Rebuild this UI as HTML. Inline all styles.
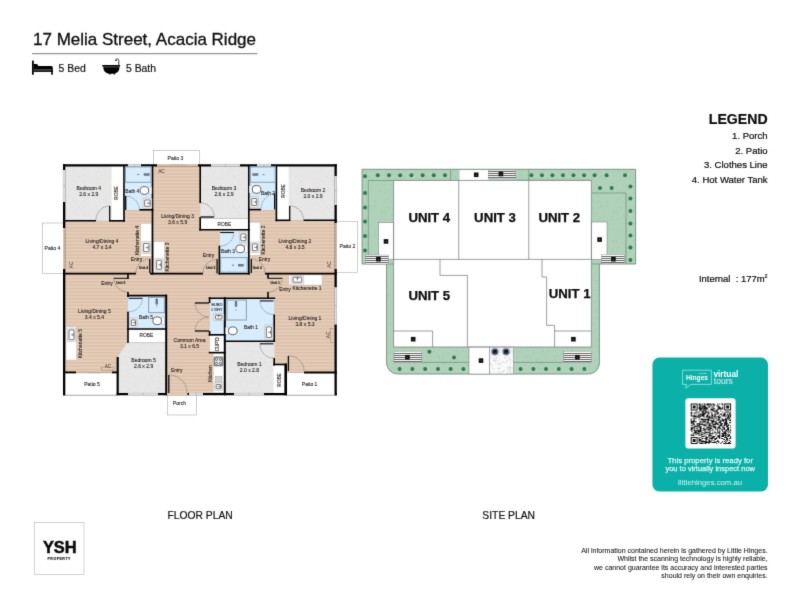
<!DOCTYPE html>
<html lang="en">
<head>
<meta charset="utf-8">
<title>17 Melia Street, Acacia Ridge</title>
<style>
html,body{margin:0;padding:0;background:#fff;}
body{width:800px;height:600px;overflow:hidden;font-family:"Liberation Sans",Arial,sans-serif;}
svg{display:block;}
text{font-family:"Liberation Sans",Arial,sans-serif;}
</style>
</head>
<body>
<svg width="800" height="600" viewBox="0 0 800 600">
<defs>
<filter id="soft" x="0" y="0" width="800" height="600" filterUnits="userSpaceOnUse" color-interpolation-filters="sRGB"><feConvolveMatrix order="3" kernelMatrix="0.0113 0.0838 0.0113 0.0838 0.6193 0.0838 0.0113 0.0838 0.0113" edgeMode="duplicate" preserveAlpha="true"/></filter>
<pattern id="wood" width="20" height="3.375" patternUnits="userSpaceOnUse" y="0.05">
<rect width="20" height="3.375" fill="#E5CCB7"/><rect y="1.1" width="20" height="1.15" fill="#D9BEA7"/>
</pattern>
<pattern id="carpet" width="31" height="31" patternUnits="userSpaceOnUse"><rect width="31" height="31" fill="#E6E7E6"/><path fill="#dadcdb" d="M18.0 4.0h1.0v0.6h-1.0zM20.4 1.9h1.0v0.6h-1.0zM1.1 15.0h0.6v1.0h-0.6zM27.5 20.7h0.6v0.6h-0.6zM8.9 23.4h0.6v0.6h-0.6zM30.4 9.4h0.6v0.6h-0.6zM1.8 19.1h0.6v0.6h-0.6zM13.3 26.0h0.6v0.6h-0.6zM28.0 4.7h0.6v0.6h-0.6zM22.7 25.4h1.0v1.0h-1.0zM27.5 21.1h0.6v0.6h-0.6zM7.7 26.2h0.6v0.6h-0.6zM24.1 28.0h0.6v0.6h-0.6zM8.2 16.0h0.6v0.6h-0.6zM3.8 2.1h0.6v1.0h-0.6zM15.7 14.9h0.6v0.6h-0.6zM10.7 19.7h1.0v0.6h-1.0zM16.9 21.8h0.6v0.6h-0.6zM11.3 15.1h1.0v0.6h-1.0zM16.3 21.1h0.6v0.6h-0.6zM12.9 26.7h0.6v0.6h-0.6zM28.5 22.2h1.0v0.6h-1.0zM16.0 17.2h1.0v0.6h-1.0zM24.9 10.4h0.6v0.6h-0.6zM20.5 25.4h0.6v1.0h-0.6zM7.4 5.5h0.6v0.6h-0.6zM12.6 17.3h1.0v1.0h-1.0zM2.9 22.7h1.0v1.0h-1.0zM4.5 15.7h0.6v1.0h-0.6zM17.3 7.3h0.6v0.6h-0.6zM14.6 21.9h0.6v1.0h-0.6zM14.2 7.0h0.6v1.0h-0.6zM27.1 23.6h0.6v0.6h-0.6zM9.5 12.9h1.0v0.6h-1.0zM2.8 25.4h0.6v0.6h-0.6zM10.2 13.3h0.6v0.6h-0.6zM19.6 22.6h0.6v0.6h-0.6zM16.5 3.6h0.6v0.6h-0.6zM16.0 21.3h1.0v0.6h-1.0zM22.9 29.2h1.0v1.0h-1.0zM21.8 20.6h1.0v1.0h-1.0zM19.6 22.2h0.6v0.6h-0.6zM1.3 15.3h0.6v1.0h-0.6zM8.2 3.0h0.6v1.0h-0.6zM18.3 22.1h0.6v0.6h-0.6zM5.9 16.1h0.6v1.0h-0.6zM4.1 24.1h1.0v0.6h-1.0zM10.9 7.1h0.6v0.6h-0.6zM13.3 23.0h0.6v0.6h-0.6zM23.9 12.4h0.6v1.0h-0.6zM11.9 14.4h0.6v1.0h-0.6zM21.9 11.2h0.6v0.6h-0.6zM4.8 0.7h1.0v0.6h-1.0z"/><path fill="#eff1f0" d="M23.7 25.0h0.6v0.6h-0.6zM22.1 17.5h0.6v0.6h-0.6zM23.7 26.0h0.6v1.0h-0.6zM17.5 16.2h0.6v1.0h-0.6zM2.7 24.3h0.6v0.6h-0.6zM16.7 28.0h0.6v1.0h-0.6zM29.1 27.3h0.6v0.6h-0.6zM26.4 11.7h1.0v1.0h-1.0zM19.3 21.8h0.6v0.6h-0.6zM15.8 16.7h0.6v0.6h-0.6zM0.7 1.8h1.0v0.6h-1.0zM7.6 13.9h1.0v1.0h-1.0zM5.4 5.6h0.6v1.0h-0.6zM9.1 11.5h0.6v1.0h-0.6zM7.3 5.7h0.6v1.0h-0.6zM22.6 6.6h1.0v0.6h-1.0zM6.8 3.7h1.0v0.6h-1.0zM24.5 25.5h0.6v0.6h-0.6zM24.5 19.5h1.0v0.6h-1.0zM19.3 8.8h1.0v0.6h-1.0zM1.6 27.8h0.6v0.6h-0.6zM6.7 3.7h0.6v0.6h-0.6zM19.1 26.2h0.6v0.6h-0.6zM9.8 24.9h0.6v0.6h-0.6zM8.1 30.0h0.6v0.6h-0.6zM28.9 12.7h0.6v0.6h-0.6zM24.3 1.1h1.0v1.0h-1.0zM15.2 29.6h0.6v1.0h-0.6zM17.8 26.1h0.6v0.6h-0.6zM0.7 14.6h0.6v0.6h-0.6zM30.1 14.6h1.0v0.6h-1.0zM17.6 27.4h1.0v1.0h-1.0zM13.8 22.3h0.6v0.6h-0.6zM9.0 20.5h1.0v0.6h-1.0zM27.1 19.9h0.6v0.6h-0.6zM9.5 5.4h0.6v0.6h-0.6zM10.9 8.1h0.6v0.6h-0.6zM0.9 24.4h0.6v0.6h-0.6zM16.8 17.7h1.0v0.6h-1.0zM6.3 14.9h0.6v0.6h-0.6zM23.0 12.2h0.6v0.6h-0.6zM23.8 4.4h0.6v1.0h-0.6z"/><path fill="#e0e1e0" d="M17.7 18.4h0.6v0.6h-0.6zM7.1 30.3h0.6v1.0h-0.6zM14.5 19.4h0.6v0.6h-0.6zM4.6 28.1h0.6v1.0h-0.6zM21.9 26.7h1.0v0.6h-1.0zM20.4 5.0h0.6v1.0h-0.6zM17.3 21.7h0.6v1.0h-0.6zM8.1 3.8h0.6v1.0h-0.6zM18.7 1.4h1.0v1.0h-1.0zM16.3 28.8h0.6v0.6h-0.6zM8.0 21.0h0.6v0.6h-0.6zM3.1 29.6h1.0v0.6h-1.0zM9.6 11.4h1.0v1.0h-1.0zM27.9 18.5h0.6v1.0h-0.6zM22.3 9.4h0.6v1.0h-0.6zM2.9 18.3h0.6v1.0h-0.6zM3.9 8.9h0.6v0.6h-0.6zM30.0 13.2h1.0v0.6h-1.0zM29.3 16.5h0.6v0.6h-0.6zM29.5 3.6h0.6v0.6h-0.6zM1.5 14.6h0.6v0.6h-0.6zM9.1 20.2h1.0v1.0h-1.0zM5.4 11.3h1.0v1.0h-1.0zM11.6 24.4h1.0v0.6h-1.0zM24.0 8.0h0.6v1.0h-0.6zM3.3 9.7h1.0v0.6h-1.0zM21.8 14.4h0.6v0.6h-0.6zM21.7 3.2h1.0v0.6h-1.0zM1.9 9.9h1.0v0.6h-1.0zM21.3 28.7h0.6v0.6h-0.6zM12.1 10.6h0.6v0.6h-0.6zM20.8 4.7h0.6v0.6h-0.6zM29.0 9.0h1.0v0.6h-1.0zM26.0 17.8h0.6v0.6h-0.6zM23.6 2.1h0.6v0.6h-0.6zM21.4 26.1h0.6v0.6h-0.6zM13.1 13.3h1.0v0.6h-1.0zM16.0 20.3h1.0v0.6h-1.0zM4.3 10.1h1.0v1.0h-1.0zM12.8 9.1h0.6v0.6h-0.6zM5.5 16.8h1.0v1.0h-1.0zM10.8 10.1h0.6v0.6h-0.6zM24.6 2.1h0.6v0.6h-0.6zM3.4 21.2h1.0v0.6h-1.0zM22.6 24.8h1.0v0.6h-1.0zM18.5 26.1h0.6v1.0h-0.6zM5.2 5.4h0.6v0.6h-0.6zM20.9 9.1h1.0v0.6h-1.0zM7.1 5.3h1.0v0.6h-1.0zM28.8 3.4h0.6v1.0h-0.6zM0.6 10.3h0.6v0.6h-0.6zM21.1 2.4h1.0v0.6h-1.0zM2.4 30.2h0.6v0.6h-0.6zM11.0 12.2h0.6v0.6h-0.6zM5.1 0.8h0.6v1.0h-0.6z"/></pattern>
<pattern id="stipple" width="29" height="29" patternUnits="userSpaceOnUse"><path fill="#98c0a4" d="M10.8 2.9h0.7v0.7h-0.7zM3.9 17.5h0.7v0.7h-0.7zM27.5 0.2h0.7v0.7h-0.7zM8.2 27.2h1.1v1.1h-1.1zM16.9 20.0h0.7v0.7h-0.7zM26.3 26.7h0.7v1.1h-0.7zM17.7 20.4h0.7v0.7h-0.7zM20.4 2.3h1.1v1.1h-1.1zM17.8 22.3h0.7v0.7h-0.7zM12.8 28.3h0.7v1.1h-0.7zM16.4 0.3h1.1v0.7h-1.1zM17.5 26.5h1.1v1.1h-1.1zM25.2 3.1h0.7v0.7h-0.7zM15.5 11.8h0.7v0.7h-0.7zM19.5 15.5h0.7v1.1h-0.7zM4.4 10.8h0.7v0.7h-0.7zM17.2 9.9h1.1v0.7h-1.1zM9.2 24.8h1.1v0.7h-1.1zM13.6 15.9h0.7v0.7h-0.7zM7.0 7.6h0.7v1.1h-0.7zM8.5 15.1h0.7v1.1h-0.7zM20.7 7.6h0.7v0.7h-0.7zM11.7 4.6h1.1v0.7h-1.1zM15.7 18.7h1.1v0.7h-1.1zM3.9 8.3h1.1v1.1h-1.1zM14.3 12.8h0.7v0.7h-0.7zM16.8 16.2h1.1v0.7h-1.1z"/><path fill="#a4c9ae" d="M8.5 10.2h0.7v0.7h-0.7zM1.8 8.5h1.1v1.1h-1.1zM23.2 13.6h0.7v0.7h-0.7zM13.4 5.0h0.7v0.7h-0.7zM10.7 23.8h0.7v0.7h-0.7zM25.3 7.1h0.7v0.7h-0.7zM26.8 2.6h0.7v1.1h-0.7zM0.9 21.0h0.7v0.7h-0.7zM18.4 4.1h1.1v0.7h-1.1zM9.5 5.9h1.1v1.1h-1.1zM10.6 1.7h0.7v0.7h-0.7zM27.2 19.5h0.7v0.7h-0.7zM8.2 11.4h0.7v0.7h-0.7zM23.3 15.0h0.7v1.1h-0.7zM24.6 5.1h0.7v0.7h-0.7zM19.7 18.8h0.7v0.7h-0.7zM19.0 13.1h1.1v1.1h-1.1zM27.6 27.1h1.1v0.7h-1.1zM19.6 20.4h1.1v0.7h-1.1zM8.6 15.7h1.1v0.7h-1.1zM0.0 11.5h0.7v0.7h-0.7zM23.0 18.2h0.7v0.7h-0.7zM3.1 16.0h1.1v1.1h-1.1zM12.2 6.4h0.7v0.7h-0.7zM0.6 26.7h0.7v0.7h-0.7zM4.1 0.7h1.1v1.1h-1.1zM6.9 1.1h0.7v0.7h-0.7zM8.3 17.2h0.7v1.1h-0.7zM20.7 0.8h0.7v0.7h-0.7zM15.7 19.4h0.7v1.1h-0.7zM13.5 19.3h1.1v0.7h-1.1zM13.2 21.5h0.7v0.7h-0.7zM4.0 13.5h1.1v0.7h-1.1zM15.2 12.0h1.1v0.7h-1.1zM19.8 1.4h0.7v0.7h-0.7zM20.0 12.4h0.7v1.1h-0.7zM1.6 16.3h1.1v0.7h-1.1zM14.6 3.8h0.7v0.7h-0.7zM20.9 5.1h1.1v0.7h-1.1zM27.3 3.0h1.1v0.7h-1.1zM23.2 4.0h1.1v0.7h-1.1zM23.7 8.2h1.1v1.1h-1.1zM22.5 10.7h1.1v0.7h-1.1zM1.8 1.0h0.7v0.7h-0.7z"/><path fill="#a9cdb3" d="M7.2 10.1h1.1v1.1h-1.1zM26.1 0.8h0.7v0.7h-0.7zM1.5 4.4h0.7v0.7h-0.7zM6.1 7.9h0.7v0.7h-0.7zM5.8 26.6h1.1v0.7h-1.1zM10.1 11.4h1.1v0.7h-1.1zM5.1 27.0h0.7v0.7h-0.7zM21.2 22.6h0.7v0.7h-0.7zM10.3 4.2h0.7v1.1h-0.7zM2.6 19.4h0.7v0.7h-0.7zM22.1 24.5h0.7v0.7h-0.7zM19.9 7.9h0.7v0.7h-0.7zM20.3 27.1h0.7v1.1h-0.7zM22.6 9.8h1.1v0.7h-1.1zM26.5 11.6h0.7v1.1h-0.7zM27.7 5.6h0.7v0.7h-0.7zM28.2 5.5h1.1v0.7h-1.1zM18.4 6.2h1.1v0.7h-1.1zM20.3 27.9h0.7v0.7h-0.7zM17.3 16.7h0.7v1.1h-0.7zM8.5 8.4h1.1v0.7h-1.1zM8.3 10.0h0.7v0.7h-0.7zM10.7 27.2h0.7v1.1h-0.7zM7.4 27.8h0.7v0.7h-0.7zM24.4 24.9h0.7v0.7h-0.7zM21.1 16.7h0.7v0.7h-0.7zM5.4 12.2h0.7v1.1h-0.7zM19.5 27.0h1.1v0.7h-1.1zM22.0 16.5h1.1v0.7h-1.1zM26.7 9.4h0.7v0.7h-0.7zM18.3 26.9h1.1v0.7h-1.1zM3.8 12.2h0.7v1.1h-0.7zM13.9 10.0h1.1v0.7h-1.1zM14.3 25.8h1.1v1.1h-1.1zM6.2 1.8h0.7v0.7h-0.7zM9.7 16.2h0.7v0.7h-0.7zM20.5 1.5h0.7v0.7h-0.7zM22.5 21.2h0.7v1.1h-0.7zM8.4 17.9h0.7v1.1h-0.7z"/></pattern>
<pattern id="gravel" width="23" height="23" patternUnits="userSpaceOnUse"><path fill="#b5b5b5" d="M7.6 10.4h0.8v0.5h-0.8zM3.8 1.2h0.5v0.8h-0.5zM15.9 0.1h0.5v0.5h-0.5zM17.2 4.4h0.5v0.5h-0.5zM20.1 3.0h0.5v0.8h-0.5zM12.9 12.1h0.5v0.5h-0.5zM9.0 14.4h0.5v0.8h-0.5zM6.1 15.4h0.5v0.8h-0.5zM6.9 6.4h0.8v0.5h-0.8zM8.6 12.6h0.5v0.5h-0.5zM21.1 18.2h0.5v0.5h-0.5zM13.6 0.3h0.5v0.5h-0.5zM17.7 6.6h0.5v0.5h-0.5zM14.9 6.2h0.8v0.8h-0.8zM3.9 14.2h0.5v0.5h-0.5zM19.3 4.6h0.5v0.5h-0.5zM13.1 13.2h0.5v0.8h-0.5zM11.0 14.3h0.5v0.8h-0.5zM0.8 13.4h0.8v0.5h-0.8zM13.7 4.1h0.5v0.5h-0.5zM2.4 7.8h0.5v0.5h-0.5zM4.3 5.0h0.5v0.5h-0.5zM1.7 14.5h0.5v0.5h-0.5zM16.7 10.5h0.8v0.5h-0.8zM21.6 11.7h0.5v0.5h-0.5zM15.3 3.0h0.5v0.5h-0.5zM0.7 9.9h0.5v0.8h-0.5zM1.8 6.8h0.5v0.8h-0.5zM7.3 3.8h0.8v0.5h-0.8zM4.7 8.2h0.5v0.8h-0.5zM7.6 10.1h0.8v0.8h-0.8zM0.4 12.4h0.5v0.5h-0.5zM10.4 0.1h0.8v0.5h-0.8zM5.0 22.1h0.5v0.5h-0.5zM3.4 3.7h0.5v0.8h-0.5zM11.4 8.0h0.5v0.5h-0.5zM4.0 3.3h0.8v0.5h-0.8zM21.7 1.9h0.5v0.5h-0.5zM17.3 21.8h0.5v0.8h-0.5zM21.0 12.1h0.8v0.5h-0.8zM0.6 16.1h0.8v0.8h-0.8zM14.8 7.6h0.8v0.5h-0.8zM19.9 16.0h0.8v0.8h-0.8zM22.5 16.6h0.8v0.8h-0.8zM10.5 2.8h0.5v0.5h-0.5zM0.3 15.0h0.5v0.5h-0.5zM4.7 5.8h0.8v0.5h-0.8zM12.9 11.4h0.5v0.5h-0.5zM13.7 5.4h0.8v0.5h-0.8zM11.9 14.9h0.5v0.8h-0.5zM3.6 22.1h0.8v0.8h-0.8zM13.7 18.2h0.5v0.5h-0.5zM10.8 6.5h0.5v0.5h-0.5zM17.1 18.3h0.5v0.8h-0.5zM5.7 22.2h0.8v0.8h-0.8zM16.9 13.6h0.5v0.5h-0.5zM2.4 0.0h0.8v0.5h-0.8zM14.1 5.8h0.8v0.5h-0.8zM8.3 6.6h0.5v0.5h-0.5zM12.7 18.1h0.5v0.8h-0.5zM3.7 7.6h0.5v0.8h-0.5zM19.1 4.3h0.5v0.8h-0.5zM16.3 0.5h0.8v0.8h-0.8zM16.7 18.9h0.5v0.8h-0.5zM10.3 14.9h0.8v0.8h-0.8zM19.2 17.2h0.8v0.5h-0.8zM3.2 3.6h0.5v0.5h-0.5zM16.8 4.1h0.8v0.5h-0.8zM0.6 22.2h0.5v0.5h-0.5zM9.6 7.3h0.8v0.5h-0.8zM9.5 1.8h0.8v0.5h-0.8z"/><path fill="#cfcfcf" d="M13.8 6.0h0.5v0.8h-0.5zM12.5 13.9h0.5v0.8h-0.5zM3.8 21.3h0.8v0.5h-0.8zM4.6 5.0h0.5v0.5h-0.5zM20.5 8.9h0.5v0.5h-0.5zM19.0 3.1h0.5v0.5h-0.5zM16.6 12.9h0.5v0.5h-0.5zM2.5 5.0h0.5v0.5h-0.5zM16.0 5.6h0.8v0.5h-0.8zM14.6 2.2h0.5v0.8h-0.5zM21.5 12.6h0.5v0.8h-0.5zM3.8 19.0h0.5v0.5h-0.5zM3.2 12.6h0.5v0.5h-0.5zM3.2 12.6h0.5v0.8h-0.5zM7.8 20.8h0.5v0.8h-0.5zM13.3 5.9h0.5v0.8h-0.5zM11.8 12.1h0.5v0.8h-0.5zM18.5 16.4h0.8v0.5h-0.8zM14.1 12.3h0.5v0.5h-0.5zM21.5 13.3h0.5v0.5h-0.5zM19.7 1.8h0.5v0.5h-0.5zM10.7 7.1h0.5v0.8h-0.5zM17.7 20.3h0.5v0.5h-0.5zM11.1 7.8h0.5v0.5h-0.5zM14.6 8.9h0.8v0.8h-0.8zM20.6 12.8h0.8v0.5h-0.8zM11.8 17.0h0.5v0.5h-0.5zM6.4 11.6h0.5v0.8h-0.5zM3.0 4.7h0.8v0.5h-0.8zM4.9 4.6h0.8v0.8h-0.8zM0.2 12.5h0.5v0.8h-0.5zM11.2 1.4h0.5v0.5h-0.5zM14.2 21.7h0.8v0.5h-0.8zM6.7 0.8h0.5v0.5h-0.5zM10.4 15.6h0.5v0.5h-0.5zM0.7 22.5h0.5v0.5h-0.5zM10.8 4.1h0.8v0.8h-0.8zM8.4 17.4h0.5v0.8h-0.5zM7.0 19.2h0.5v0.5h-0.5zM21.2 7.8h0.8v0.5h-0.8zM7.9 17.4h0.5v0.5h-0.5zM6.2 6.5h0.5v0.8h-0.5zM16.8 2.3h0.5v0.8h-0.5zM1.5 21.5h0.5v0.8h-0.5zM9.5 0.4h0.5v0.5h-0.5zM5.8 4.4h0.8v0.5h-0.8zM20.0 4.5h0.5v0.5h-0.5zM22.0 11.4h0.5v0.5h-0.5zM17.0 18.9h0.5v0.5h-0.5zM3.7 21.4h0.8v0.5h-0.8zM7.4 1.8h0.5v0.8h-0.5zM20.5 21.6h0.5v0.5h-0.5zM5.2 6.6h0.5v0.5h-0.5zM5.9 4.5h0.8v0.8h-0.8zM11.2 13.5h0.8v0.5h-0.8zM12.3 18.3h0.5v0.5h-0.5zM18.2 5.3h0.8v0.8h-0.8zM14.5 15.3h0.8v0.8h-0.8zM16.1 15.5h0.8v0.8h-0.8zM1.7 3.3h0.5v0.8h-0.5zM21.0 2.2h0.8v0.8h-0.8zM14.6 0.0h0.5v0.8h-0.5zM12.2 9.8h0.5v0.8h-0.5zM20.8 12.8h0.5v0.5h-0.5zM22.4 10.0h0.5v0.8h-0.5zM16.7 7.5h0.8v0.5h-0.8zM11.5 5.8h0.8v0.5h-0.8zM9.3 21.3h0.5v0.5h-0.5zM14.4 18.7h0.8v0.5h-0.8zM3.4 1.6h0.5v0.5h-0.5zM16.3 13.3h0.5v0.5h-0.5zM14.2 16.0h0.8v0.8h-0.8zM1.2 1.1h0.5v0.5h-0.5z"/><path fill="#a9a9a9" d="M1.4 15.5h0.8v0.5h-0.8zM20.4 2.5h0.8v0.5h-0.8zM3.3 21.1h0.8v0.5h-0.8zM9.1 20.4h0.5v0.8h-0.5zM1.0 8.2h0.8v0.8h-0.8zM12.7 15.5h0.5v0.5h-0.5zM8.2 4.7h0.5v0.8h-0.5zM0.4 18.0h0.5v0.5h-0.5zM12.5 15.7h0.5v0.5h-0.5zM12.6 8.7h0.5v0.8h-0.5zM12.2 6.8h0.8v0.5h-0.8zM3.1 2.2h0.5v0.5h-0.5zM0.7 5.5h0.5v0.5h-0.5zM9.2 13.2h0.5v0.5h-0.5zM17.5 7.5h0.5v0.5h-0.5zM15.4 0.3h0.5v0.8h-0.5zM10.3 8.7h0.5v0.5h-0.5zM16.5 4.8h0.8v0.5h-0.8zM7.3 18.8h0.8v0.8h-0.8zM3.9 6.9h0.5v0.5h-0.5zM13.5 12.3h0.5v0.5h-0.5zM4.2 17.5h0.8v0.5h-0.8zM20.8 8.6h0.8v0.5h-0.8zM2.1 21.7h0.8v0.5h-0.8zM15.3 3.0h0.5v0.5h-0.5zM9.2 9.6h0.5v0.5h-0.5zM14.9 20.2h0.5v0.8h-0.5zM11.6 9.2h0.5v0.8h-0.5zM14.8 9.3h0.5v0.5h-0.5zM4.1 14.6h0.8v0.8h-0.8zM2.7 13.0h0.5v0.5h-0.5zM2.3 11.4h0.8v0.5h-0.8zM16.4 18.2h0.8v0.8h-0.8zM12.0 16.0h0.5v0.5h-0.5zM11.0 9.3h0.5v0.5h-0.5zM11.5 15.8h0.5v0.8h-0.5zM1.8 21.7h0.8v0.5h-0.8zM3.8 0.2h0.5v0.8h-0.5zM9.9 11.7h0.5v0.5h-0.5zM0.9 4.7h0.8v0.5h-0.8zM1.5 2.1h0.8v0.5h-0.8zM3.8 18.8h0.5v0.5h-0.5zM4.4 12.7h0.5v0.5h-0.5zM15.0 10.5h0.5v0.8h-0.5zM3.6 18.4h0.5v0.5h-0.5zM4.1 1.6h0.5v0.5h-0.5zM3.4 10.7h0.5v0.5h-0.5zM3.7 14.8h0.5v0.5h-0.5zM4.6 2.1h0.5v0.5h-0.5zM6.2 8.1h0.8v0.5h-0.8zM5.8 1.3h0.5v0.8h-0.5zM1.2 0.1h0.8v0.5h-0.8zM1.6 4.4h0.5v0.8h-0.5zM12.7 10.3h0.5v0.5h-0.5zM13.5 13.3h0.5v0.5h-0.5zM0.8 1.5h0.5v0.5h-0.5z"/></pattern>
</defs>
<g filter="url(#soft)">
<rect width="800" height="600" fill="#fff"/>
<g id="floorplan">
<rect x="153.60" y="150.40" width="45.80" height="14.60" fill="#FFFFFF" stroke="#9a9a9a" stroke-width="0.5" />
<rect x="42.40" y="223.00" width="21.60" height="50.60" fill="#FFFFFF" stroke="#9a9a9a" stroke-width="0.5" />
<rect x="336.00" y="221.60" width="21.40" height="50.80" fill="#FFFFFF" stroke="#9a9a9a" stroke-width="0.5" />
<rect x="167.60" y="394.50" width="29.00" height="20.50" fill="#FFFFFF" stroke="#9a9a9a" stroke-width="0.5" />
<rect x="64.00" y="165.00" width="271.60" height="229.20" fill="url(#wood)" />
<rect x="64.00" y="372.60" width="53.00" height="22.40" fill="#FFFFFF" stroke="#9a9a9a" stroke-width="0.5" />
<rect x="286.40" y="372.60" width="49.20" height="22.40" fill="#FFFFFF" stroke="#9a9a9a" stroke-width="0.5" />
<rect x="65.00" y="166.00" width="46.40" height="54.60" fill="url(#carpet)" />
<rect x="200.40" y="166.00" width="48.20" height="52.40" fill="url(#carpet)" />
<rect x="288.60" y="166.00" width="46.40" height="54.00" fill="url(#carpet)" />
<polygon points="127.4,342.6 165.6,342.6 165.6,393.6 117.6,393.6 117.6,357 " fill="url(#carpet)"/>
<rect x="225.00" y="341.40" width="49.60" height="52.20" fill="url(#carpet)" />
<rect x="124.00" y="166.00" width="28.00" height="44.00" fill="#D7ECFC" />
<rect x="249.00" y="166.00" width="27.00" height="44.00" fill="#D7ECFC" />
<rect x="220.00" y="230.80" width="28.60" height="42.20" fill="#D7ECFC" />
<rect x="128.00" y="296.00" width="38.00" height="33.00" fill="#D7ECFC" />
<rect x="210.00" y="298.60" width="14.60" height="36.00" fill="#D7ECFC" />
<rect x="225.00" y="298.60" width="49.00" height="42.40" fill="#D7ECFC" />
<rect x="111.40" y="166.00" width="12.20" height="54.60" fill="#FFFFFF" />
<rect x="277.00" y="166.00" width="11.80" height="54.00" fill="#FFFFFF" />
<rect x="200.40" y="218.60" width="48.20" height="11.00" fill="#FFFFFF" />
<rect x="128.00" y="329.00" width="38.00" height="13.60" fill="#FFFFFF" />
<rect x="273.60" y="365.00" width="11.40" height="28.60" fill="#FFFFFF" />
<rect x="210.00" y="335.60" width="14.60" height="16.80" fill="#FFFFFF" />
<rect x="213.20" y="353.40" width="11.20" height="39.20" fill="#FFFFFF" stroke="#bdbdbd" stroke-width="0.4" />
<rect x="140.80" y="223.60" width="11.00" height="32.60" fill="#FFFFFF" stroke="#bdbdbd" stroke-width="0.4" />
<rect x="153.60" y="241.80" width="10.60" height="31.00" fill="#FFFFFF" stroke="#bdbdbd" stroke-width="0.4" />
<rect x="249.60" y="222.40" width="10.40" height="32.80" fill="#FFFFFF" stroke="#bdbdbd" stroke-width="0.4" />
<rect x="289.00" y="275.00" width="33.00" height="10.00" fill="#FFFFFF" stroke="#bdbdbd" stroke-width="0.4" />
<rect x="66.00" y="326.60" width="10.40" height="33.40" fill="#FFFFFF" stroke="#bdbdbd" stroke-width="0.4" />
</g>
<g id="walls" stroke-linecap="butt">
<line x1="63.00" y1="165.30" x2="336.80" y2="165.30" stroke="#000" stroke-width="2.3" />
<line x1="64.15" y1="164.20" x2="64.15" y2="395.30" stroke="#000" stroke-width="2.3" />
<line x1="335.65" y1="164.20" x2="335.65" y2="395.30" stroke="#000" stroke-width="2.3" />
<line x1="63.00" y1="394.15" x2="336.80" y2="394.15" stroke="#000" stroke-width="2.3" />
<line x1="63.00" y1="220.80" x2="96.00" y2="220.80" stroke="#000" stroke-width="1.6" />
<line x1="109.00" y1="220.80" x2="125.00" y2="220.80" stroke="#000" stroke-width="1.6" />
<line x1="124.00" y1="165.00" x2="124.00" y2="221.70" stroke="#000" stroke-width="1.6" />
<line x1="139.40" y1="209.80" x2="153.40" y2="209.80" stroke="#000" stroke-width="1.6" />
<line x1="152.50" y1="165.00" x2="152.50" y2="274.60" stroke="#000" stroke-width="1.65" />
<line x1="200.20" y1="165.00" x2="200.20" y2="203.00" stroke="#000" stroke-width="1.6" />
<line x1="200.20" y1="217.00" x2="200.20" y2="230.40" stroke="#000" stroke-width="1.6" />
<line x1="199.30" y1="229.70" x2="249.80" y2="229.70" stroke="#000" stroke-width="1.6" />
<line x1="200.40" y1="218.50" x2="248.00" y2="218.50" stroke="#9a9a9a" stroke-width="0.4" />
<line x1="248.80" y1="165.00" x2="248.80" y2="274.60" stroke="#000" stroke-width="1.6" />
<line x1="248.00" y1="209.60" x2="261.00" y2="209.60" stroke="#000" stroke-width="1.6" />
<line x1="276.40" y1="165.00" x2="276.40" y2="221.20" stroke="#000" stroke-width="1.6" />
<line x1="275.50" y1="220.30" x2="290.40" y2="220.30" stroke="#000" stroke-width="1.6" />
<line x1="303.60" y1="220.30" x2="336.80" y2="220.30" stroke="#000" stroke-width="1.6" />
<line x1="63.00" y1="273.60" x2="136.00" y2="273.60" stroke="#000" stroke-width="1.65" />
<line x1="150.00" y1="273.60" x2="203.00" y2="273.60" stroke="#000" stroke-width="1.65" />
<line x1="218.60" y1="273.60" x2="250.00" y2="273.60" stroke="#000" stroke-width="1.65" />
<line x1="265.00" y1="273.60" x2="336.80" y2="273.60" stroke="#000" stroke-width="1.65" />
<line x1="219.40" y1="245.80" x2="219.40" y2="274.40" stroke="#000" stroke-width="1.6" />
<line x1="128.00" y1="273.00" x2="128.00" y2="279.00" stroke="#000" stroke-width="1.6" />
<line x1="128.00" y1="292.00" x2="128.00" y2="297.00" stroke="#000" stroke-width="1.6" />
<line x1="128.00" y1="311.80" x2="128.00" y2="343.00" stroke="#000" stroke-width="1.6" />
<line x1="127.10" y1="295.60" x2="166.70" y2="295.60" stroke="#000" stroke-width="1.65" />
<line x1="166.20" y1="294.60" x2="166.20" y2="395.30" stroke="#000" stroke-width="2.0" />
<line x1="127.10" y1="329.00" x2="166.70" y2="329.00" stroke="#000" stroke-width="1.7" />
<line x1="128.00" y1="342.60" x2="165.00" y2="342.60" stroke="#9a9a9a" stroke-width="0.4" />
<line x1="117.70" y1="357.00" x2="117.70" y2="395.30" stroke="#000" stroke-width="2.1" />
<line x1="63.00" y1="372.40" x2="76.00" y2="372.40" stroke="#000" stroke-width="1.9" />
<line x1="112.00" y1="372.40" x2="118.40" y2="372.40" stroke="#000" stroke-width="1.9" />
<line x1="208.70" y1="298.20" x2="275.20" y2="298.20" stroke="#000" stroke-width="1.65" />
<line x1="209.60" y1="297.20" x2="209.60" y2="303.00" stroke="#000" stroke-width="1.6" />
<line x1="209.60" y1="331.00" x2="209.60" y2="335.60" stroke="#000" stroke-width="1.6" />
<line x1="224.80" y1="297.20" x2="224.80" y2="395.30" stroke="#000" stroke-width="2.0" />
<line x1="208.70" y1="334.80" x2="225.70" y2="334.80" stroke="#000" stroke-width="1.6" />
<line x1="208.70" y1="352.60" x2="225.70" y2="352.60" stroke="#000" stroke-width="1.6" />
<line x1="274.20" y1="314.50" x2="274.20" y2="342.00" stroke="#000" stroke-width="1.6" />
<line x1="274.20" y1="358.00" x2="274.20" y2="365.40" stroke="#000" stroke-width="1.6" />
<line x1="223.90" y1="341.20" x2="275.10" y2="341.20" stroke="#000" stroke-width="1.65" />
<line x1="273.30" y1="364.50" x2="287.00" y2="364.50" stroke="#000" stroke-width="1.6" />
<line x1="285.70" y1="363.60" x2="285.70" y2="395.30" stroke="#000" stroke-width="2.6" />
<line x1="304.00" y1="372.60" x2="336.80" y2="372.60" stroke="#000" stroke-width="2.0" />
<line x1="268.00" y1="273.00" x2="268.00" y2="278.60" stroke="#000" stroke-width="1.6" />
<line x1="268.00" y1="292.00" x2="268.00" y2="298.60" stroke="#000" stroke-width="1.6" />
</g>
<g id="openings">
<rect x="128.00" y="164.00" width="13.00" height="2.60" fill="#fafafa" />
<line x1="128.00" y1="164.40" x2="141.00" y2="164.40" stroke="#9a9a9a" stroke-width="0.5" />
<line x1="128.00" y1="166.20" x2="141.00" y2="166.20" stroke="#9a9a9a" stroke-width="0.5" />
<line x1="128.00" y1="165.30" x2="141.00" y2="165.30" stroke="#d0d0d0" stroke-width="0.6" />
<line x1="134.50" y1="164.10" x2="134.50" y2="166.50" stroke="#9a9a9a" stroke-width="0.5" />
<rect x="211.00" y="164.00" width="29.00" height="2.60" fill="#fafafa" />
<line x1="211.00" y1="164.40" x2="240.00" y2="164.40" stroke="#9a9a9a" stroke-width="0.5" />
<line x1="211.00" y1="166.20" x2="240.00" y2="166.20" stroke="#9a9a9a" stroke-width="0.5" />
<line x1="211.00" y1="165.30" x2="240.00" y2="165.30" stroke="#d0d0d0" stroke-width="0.6" />
<line x1="225.50" y1="164.10" x2="225.50" y2="166.50" stroke="#9a9a9a" stroke-width="0.5" />
<rect x="257.00" y="164.00" width="14.00" height="2.60" fill="#fafafa" />
<line x1="257.00" y1="164.40" x2="271.00" y2="164.40" stroke="#9a9a9a" stroke-width="0.5" />
<line x1="257.00" y1="166.20" x2="271.00" y2="166.20" stroke="#9a9a9a" stroke-width="0.5" />
<line x1="257.00" y1="165.30" x2="271.00" y2="165.30" stroke="#d0d0d0" stroke-width="0.6" />
<line x1="264.00" y1="164.10" x2="264.00" y2="166.50" stroke="#9a9a9a" stroke-width="0.5" />
<rect x="157.00" y="164.00" width="41.00" height="2.60" fill="url(#wood)" />
<line x1="157.00" y1="165.50" x2="198.00" y2="165.50" stroke="#b7a392" stroke-width="0.4" />
<line x1="170.00" y1="164.80" x2="186.00" y2="164.80" stroke="#b9a796" stroke-width="0.6" />
<rect x="62.85" y="170.00" width="2.60" height="32.00" fill="#fafafa" />
<line x1="63.25" y1="170.00" x2="63.25" y2="202.00" stroke="#9a9a9a" stroke-width="0.5" />
<line x1="65.05" y1="170.00" x2="65.05" y2="202.00" stroke="#9a9a9a" stroke-width="0.5" />
<line x1="64.15" y1="170.00" x2="64.15" y2="202.00" stroke="#d0d0d0" stroke-width="0.6" />
<line x1="62.95" y1="186.00" x2="65.35" y2="186.00" stroke="#9a9a9a" stroke-width="0.5" />
<rect x="63.00" y="228.00" width="2.40" height="41.00" fill="url(#wood)" />
<line x1="64.30" y1="228.00" x2="64.30" y2="269.00" stroke="#9a8a7c" stroke-width="0.5" />
<rect x="334.35" y="176.00" width="2.60" height="29.00" fill="#fafafa" />
<line x1="334.75" y1="176.00" x2="334.75" y2="205.00" stroke="#9a9a9a" stroke-width="0.5" />
<line x1="336.55" y1="176.00" x2="336.55" y2="205.00" stroke="#9a9a9a" stroke-width="0.5" />
<line x1="335.65" y1="176.00" x2="335.65" y2="205.00" stroke="#d0d0d0" stroke-width="0.6" />
<line x1="334.45" y1="190.50" x2="336.85" y2="190.50" stroke="#9a9a9a" stroke-width="0.5" />
<rect x="334.40" y="223.00" width="2.50" height="46.00" fill="url(#wood)" />
<line x1="335.40" y1="223.00" x2="335.40" y2="269.00" stroke="#9a8a7c" stroke-width="0.5" />
<rect x="334.35" y="287.40" width="2.60" height="37.00" fill="#fafafa" />
<line x1="334.75" y1="287.40" x2="334.75" y2="324.40" stroke="#9a9a9a" stroke-width="0.5" />
<line x1="336.55" y1="287.40" x2="336.55" y2="324.40" stroke="#9a9a9a" stroke-width="0.5" />
<line x1="335.65" y1="287.40" x2="335.65" y2="324.40" stroke="#d0d0d0" stroke-width="0.6" />
<line x1="334.45" y1="305.90" x2="336.85" y2="305.90" stroke="#9a9a9a" stroke-width="0.5" />
<rect x="65.30" y="393.00" width="51.10" height="2.40" fill="#FFFFFF" />
<line x1="65.30" y1="395.00" x2="116.40" y2="395.00" stroke="#9a9a9a" stroke-width="0.5" />
<rect x="128.00" y="392.85" width="30.00" height="2.60" fill="#fafafa" />
<line x1="128.00" y1="393.25" x2="158.00" y2="393.25" stroke="#9a9a9a" stroke-width="0.5" />
<line x1="128.00" y1="395.05" x2="158.00" y2="395.05" stroke="#9a9a9a" stroke-width="0.5" />
<line x1="128.00" y1="394.15" x2="158.00" y2="394.15" stroke="#d0d0d0" stroke-width="0.6" />
<line x1="143.00" y1="392.95" x2="143.00" y2="395.35" stroke="#9a9a9a" stroke-width="0.5" />
<rect x="167.00" y="392.85" width="20.40" height="2.60" fill="url(#wood)" />
<rect x="189.00" y="392.85" width="14.00" height="2.60" fill="#fafafa" />
<line x1="189.00" y1="393.25" x2="203.00" y2="393.25" stroke="#9a9a9a" stroke-width="0.5" />
<line x1="189.00" y1="395.05" x2="203.00" y2="395.05" stroke="#9a9a9a" stroke-width="0.5" />
<line x1="189.00" y1="394.15" x2="203.00" y2="394.15" stroke="#d0d0d0" stroke-width="0.6" />
<line x1="196.00" y1="392.95" x2="196.00" y2="395.35" stroke="#9a9a9a" stroke-width="0.5" />
<rect x="234.00" y="392.85" width="30.00" height="2.60" fill="#fafafa" />
<line x1="234.00" y1="393.25" x2="264.00" y2="393.25" stroke="#9a9a9a" stroke-width="0.5" />
<line x1="234.00" y1="395.05" x2="264.00" y2="395.05" stroke="#9a9a9a" stroke-width="0.5" />
<line x1="234.00" y1="394.15" x2="264.00" y2="394.15" stroke="#d0d0d0" stroke-width="0.6" />
<line x1="249.00" y1="392.95" x2="249.00" y2="395.35" stroke="#9a9a9a" stroke-width="0.5" />
<rect x="287.00" y="393.00" width="47.50" height="2.40" fill="#FFFFFF" />
<line x1="287.00" y1="395.00" x2="334.50" y2="395.00" stroke="#9a9a9a" stroke-width="0.5" />
<rect x="76.00" y="371.47" width="36.00" height="1.85" fill="url(#wood)" />
<line x1="76.00" y1="372.20" x2="112.00" y2="372.20" stroke="#9a8a7c" stroke-width="0.5" />
<line x1="88.00" y1="372.90" x2="100.00" y2="372.90" stroke="#b9a796" stroke-width="0.6" />
</g>
<g id="doors">
<path d="M109.70 206.00 A14.00 14.00 0 0 0 96.00 220.00" fill="none" stroke="#3f4850" stroke-width="0.6" stroke-dasharray="1.1 0.9"/>
<line x1="109.70" y1="220.00" x2="109.70" y2="206.00" stroke="#080b0e" stroke-width="1.3" />
<path d="M125.70 196.00 A14.00 14.00 0 0 1 139.40 210.00" fill="none" stroke="#3f4850" stroke-width="0.6" stroke-dasharray="1.1 0.9"/>
<line x1="125.70" y1="210.00" x2="125.70" y2="196.00" stroke="#080b0e" stroke-width="1.3" />
<path d="M214.00 217.00 A13.40 13.40 0 0 0 200.60 203.00" fill="none" stroke="#3f4850" stroke-width="0.6" stroke-dasharray="1.1 0.9"/>
<line x1="200.60" y1="217.00" x2="214.00" y2="217.00" stroke="#080b0e" stroke-width="1.3" />
<path d="M274.60 193.40 A16.00 16.00 0 0 0 261.00 209.40" fill="none" stroke="#3f4850" stroke-width="0.6" stroke-dasharray="1.1 0.9"/>
<line x1="274.60" y1="209.40" x2="274.60" y2="193.40" stroke="#080b0e" stroke-width="1.2" />
<path d="M289.70 206.00 A14.00 14.00 0 0 1 303.60 220.00" fill="none" stroke="#3f4850" stroke-width="0.6" stroke-dasharray="1.1 0.9"/>
<line x1="289.70" y1="220.00" x2="289.70" y2="206.00" stroke="#080b0e" stroke-width="1.3" />
<path d="M233.80 232.50 A13.60 13.60 0 0 1 220.20 246.00" fill="none" stroke="#3f4850" stroke-width="0.6" stroke-dasharray="1.1 0.9"/>
<line x1="220.20" y1="232.50" x2="233.80" y2="232.50" stroke="#080b0e" stroke-width="1.1" />
<path d="M149.80 259.00 A14.00 14.00 0 0 0 136.00 273.00" fill="none" stroke="#3f4850" stroke-width="0.6" stroke-dasharray="1.1 0.9"/>
<line x1="149.80" y1="273.00" x2="149.80" y2="259.00" stroke="#080b0e" stroke-width="1.3" />
<path d="M217.10 259.30 A14.10 14.10 0 0 0 203.00 273.40" fill="none" stroke="#3f4850" stroke-width="0.6" stroke-dasharray="1.1 0.9"/>
<line x1="217.10" y1="273.40" x2="217.10" y2="259.30" stroke="#080b0e" stroke-width="1.3" />
<path d="M251.30 259.00 A14.00 14.00 0 0 1 265.00 273.00" fill="none" stroke="#3f4850" stroke-width="0.6" stroke-dasharray="1.1 0.9"/>
<line x1="251.30" y1="273.00" x2="251.30" y2="259.00" stroke="#080b0e" stroke-width="1.3" />
<path d="M113.80 278.30 A14.20 14.20 0 0 0 128.00 292.00" fill="none" stroke="#3f4850" stroke-width="0.6" stroke-dasharray="1.1 0.9"/>
<line x1="128.00" y1="278.30" x2="113.80" y2="278.30" stroke="#080b0e" stroke-width="1.0" />
<path d="M282.20 278.30 A14.20 14.20 0 0 1 268.00 292.00" fill="none" stroke="#3f4850" stroke-width="0.6" stroke-dasharray="1.1 0.9"/>
<line x1="268.00" y1="278.30" x2="282.20" y2="278.30" stroke="#080b0e" stroke-width="1.0" />
<path d="M142.40 298.30 A13.80 13.80 0 0 1 128.60 311.80" fill="none" stroke="#3f4850" stroke-width="0.6" stroke-dasharray="1.1 0.9"/>
<line x1="128.60" y1="298.30" x2="142.40" y2="298.30" stroke="#080b0e" stroke-width="1.0" />
<path d="M195.00 303.00 A14.00 14.00 0 0 0 209.00 317.00" fill="none" stroke="#3f4850" stroke-width="0.6" stroke-dasharray="1.1 0.9"/>
<line x1="209.00" y1="303.00" x2="195.00" y2="303.00" stroke="#080b0e" stroke-width="1.3" />
<path d="M195.00 331.00 A14.00 14.00 0 0 1 209.00 317.00" fill="none" stroke="#3f4850" stroke-width="0.6" stroke-dasharray="1.1 0.9"/>
<line x1="209.00" y1="331.00" x2="195.00" y2="331.00" stroke="#080b0e" stroke-width="1.3" />
<path d="M260.00 300.90 A13.50 13.50 0 0 0 273.50 314.50" fill="none" stroke="#3f4850" stroke-width="0.6" stroke-dasharray="1.1 0.9"/>
<line x1="273.50" y1="300.90" x2="260.00" y2="300.90" stroke="#080b0e" stroke-width="1.1" />
<path d="M260.00 343.80 A13.50 13.50 0 0 0 273.50 358.00" fill="none" stroke="#3f4850" stroke-width="0.6" stroke-dasharray="1.1 0.9"/>
<line x1="273.50" y1="343.80" x2="260.00" y2="343.80" stroke="#080b0e" stroke-width="1.1" />
<path d="M288.40 356.00 A15.00 15.00 0 0 1 304.00 371.00" fill="none" stroke="#3f4850" stroke-width="0.6" stroke-dasharray="1.1 0.9"/>
<line x1="288.40" y1="371.00" x2="288.40" y2="356.00" stroke="#080b0e" stroke-width="1.3" />
<path d="M168.80 375.00 A18.00 18.00 0 0 1 187.00 393.00" fill="none" stroke="#3f4850" stroke-width="0.6" stroke-dasharray="1.1 0.9"/>
<line x1="168.80" y1="393.00" x2="168.80" y2="375.00" stroke="#080b0e" stroke-width="1.3" />
</g>
<g id="fixtures">
<rect x="125.40" y="166.90" width="25.60" height="15.40" fill="#D7ECFC" stroke="#90a6b7" stroke-width="1.1" />
<rect x="144.00" y="173.70" width="5.20" height="1.80" fill="#8a949c" stroke="#39424a" stroke-width="0.4" />
<line x1="145.40" y1="173.70" x2="145.40" y2="175.50" stroke="#555" stroke-width="0.3" />
<line x1="146.60" y1="173.70" x2="146.60" y2="175.50" stroke="#555" stroke-width="0.3" />
<line x1="147.80" y1="173.70" x2="147.80" y2="175.50" stroke="#555" stroke-width="0.3" />
<line x1="137.20" y1="174.60" x2="139.20" y2="174.60" stroke="#333" stroke-width="0.6" />
<rect x="148.80" y="186.70" width="3.00" height="7.60" fill="#FFFFFF" stroke="#8a8a8a" stroke-width="0.4" rx="0.8" />
<ellipse cx="144.40" cy="190.50" rx="4.3" ry="3.9" fill="#fff" stroke="#454545" stroke-width="0.85"/>
<rect x="143.10" y="198.10" width="8.80" height="10.20" fill="#f1f1f1" stroke="#a8a8a8" stroke-width="0.5" rx="0.4" />
<rect x="144.70" y="200.00" width="5.60" height="6.40" fill="#FFFFFF" stroke="#333" stroke-width="0.65" rx="0.5" />
<line x1="146.70" y1="203.20" x2="149.10" y2="203.20" stroke="#222" stroke-width="0.5" />
<line x1="149.10" y1="201.70" x2="149.10" y2="204.70" stroke="#222" stroke-width="0.5" />
<rect x="250.40" y="166.90" width="24.80" height="15.40" fill="#D7ECFC" stroke="#90a6b7" stroke-width="1.1" />
<rect x="252.80" y="173.70" width="5.20" height="1.80" fill="#8a949c" stroke="#39424a" stroke-width="0.4" />
<line x1="254.20" y1="173.70" x2="254.20" y2="175.50" stroke="#555" stroke-width="0.3" />
<line x1="255.40" y1="173.70" x2="255.40" y2="175.50" stroke="#555" stroke-width="0.3" />
<line x1="256.60" y1="173.70" x2="256.60" y2="175.50" stroke="#555" stroke-width="0.3" />
<line x1="262.60" y1="174.60" x2="264.40" y2="174.60" stroke="#333" stroke-width="0.6" />
<rect x="249.20" y="185.60" width="3.00" height="7.60" fill="#FFFFFF" stroke="#8a8a8a" stroke-width="0.4" rx="0.8" />
<ellipse cx="256.60" cy="189.40" rx="4.3" ry="3.9" fill="#fff" stroke="#454545" stroke-width="0.85"/>
<rect x="250.20" y="196.60" width="8.20" height="10.80" fill="#f1f1f1" stroke="#a8a8a8" stroke-width="0.5" rx="0.4" />
<rect x="251.80" y="198.50" width="5.00" height="7.00" fill="#FFFFFF" stroke="#333" stroke-width="0.65" rx="0.5" />
<line x1="253.50" y1="202.00" x2="255.90" y2="202.00" stroke="#222" stroke-width="0.5" />
<line x1="255.90" y1="200.50" x2="255.90" y2="203.50" stroke="#222" stroke-width="0.5" />
<rect x="220.60" y="257.60" width="26.60" height="14.60" fill="#D7ECFC" stroke="#90a6b7" stroke-width="1.1" />
<rect x="238.40" y="264.30" width="5.20" height="1.80" fill="#8a949c" stroke="#39424a" stroke-width="0.4" />
<line x1="239.80" y1="264.30" x2="239.80" y2="266.10" stroke="#555" stroke-width="0.3" />
<line x1="241.00" y1="264.30" x2="241.00" y2="266.10" stroke="#555" stroke-width="0.3" />
<line x1="242.20" y1="264.30" x2="242.20" y2="266.10" stroke="#555" stroke-width="0.3" />
<line x1="232.00" y1="265.20" x2="234.00" y2="265.20" stroke="#333" stroke-width="0.6" />
<rect x="244.60" y="245.00" width="3.00" height="7.60" fill="#FFFFFF" stroke="#8a8a8a" stroke-width="0.4" rx="0.8" />
<ellipse cx="240.20" cy="248.80" rx="4.3" ry="3.9" fill="#fff" stroke="#454545" stroke-width="0.85"/>
<rect x="239.20" y="232.00" width="8.40" height="10.60" fill="#f1f1f1" stroke="#a8a8a8" stroke-width="0.5" rx="0.4" />
<rect x="240.80" y="233.90" width="5.20" height="6.80" fill="#FFFFFF" stroke="#333" stroke-width="0.65" rx="0.5" />
<line x1="242.60" y1="237.30" x2="245.00" y2="237.30" stroke="#222" stroke-width="0.5" />
<line x1="245.00" y1="235.80" x2="245.00" y2="238.80" stroke="#222" stroke-width="0.5" />
<rect x="148.60" y="297.40" width="15.80" height="15.20" fill="#D7ECFC" stroke="#90a6b7" stroke-width="1.1" />
<rect x="155.90" y="299.00" width="1.80" height="5.20" fill="#8a949c" stroke="#39424a" stroke-width="0.4" />
<line x1="155.90" y1="300.40" x2="157.70" y2="300.40" stroke="#555" stroke-width="0.3" />
<line x1="155.90" y1="301.60" x2="157.70" y2="301.60" stroke="#555" stroke-width="0.3" />
<line x1="155.90" y1="302.80" x2="157.70" y2="302.80" stroke="#555" stroke-width="0.3" />
<line x1="156.80" y1="305.60" x2="156.80" y2="306.40" stroke="#333" stroke-width="0.8" />
<rect x="161.60" y="317.00" width="3.00" height="7.60" fill="#FFFFFF" stroke="#8a8a8a" stroke-width="0.4" rx="0.8" />
<ellipse cx="157.20" cy="320.80" rx="4.3" ry="3.9" fill="#fff" stroke="#454545" stroke-width="0.85"/>
<rect x="129.80" y="318.00" width="7.50" height="9.40" fill="#f1f1f1" stroke="#a8a8a8" stroke-width="0.5" rx="0.4" />
<rect x="131.40" y="319.90" width="4.30" height="5.60" fill="#FFFFFF" stroke="#333" stroke-width="0.65" rx="0.5" />
<line x1="132.75" y1="322.70" x2="135.15" y2="322.70" stroke="#222" stroke-width="0.5" />
<line x1="135.15" y1="321.20" x2="135.15" y2="324.20" stroke="#222" stroke-width="0.5" />
<rect x="227.00" y="300.00" width="19.40" height="20.00" fill="#D7ECFC" stroke="#90a6b7" stroke-width="1.1" />
<rect x="235.10" y="301.40" width="1.80" height="5.20" fill="#8a949c" stroke="#39424a" stroke-width="0.4" />
<line x1="235.10" y1="302.80" x2="236.90" y2="302.80" stroke="#555" stroke-width="0.3" />
<line x1="235.10" y1="304.00" x2="236.90" y2="304.00" stroke="#555" stroke-width="0.3" />
<line x1="235.10" y1="305.20" x2="236.90" y2="305.20" stroke="#555" stroke-width="0.3" />
<line x1="236.00" y1="309.60" x2="236.00" y2="310.40" stroke="#333" stroke-width="0.8" />
<rect x="225.40" y="327.00" width="3.00" height="7.60" fill="#FFFFFF" stroke="#8a8a8a" stroke-width="0.4" rx="0.8" />
<ellipse cx="232.80" cy="330.80" rx="4.3" ry="3.9" fill="#fff" stroke="#454545" stroke-width="0.85"/>
<rect x="264.80" y="325.00" width="8.20" height="14.40" fill="#f1f1f1" stroke="#a8a8a8" stroke-width="0.5" rx="0.4" />
<rect x="266.40" y="326.90" width="5.00" height="10.60" fill="#FFFFFF" stroke="#333" stroke-width="0.65" rx="0.5" />
<line x1="268.10" y1="332.20" x2="270.50" y2="332.20" stroke="#222" stroke-width="0.5" />
<line x1="270.50" y1="330.70" x2="270.50" y2="333.70" stroke="#222" stroke-width="0.5" />
<rect x="213.60" y="313.60" width="10.20" height="7.00" fill="#f1f1f1" stroke="#a8a8a8" stroke-width="0.5" rx="0.4" />
<rect x="215.50" y="315.20" width="6.40" height="3.80" fill="#FFFFFF" stroke="#333" stroke-width="0.65" rx="0.5" />
<line x1="218.70" y1="315.50" x2="218.70" y2="317.90" stroke="#222" stroke-width="0.5" />
<line x1="217.20" y1="315.50" x2="220.20" y2="315.50" stroke="#222" stroke-width="0.5" />
<rect x="142.00" y="241.60" width="8.60" height="12.00" fill="#f1f1f1" stroke="#a8a8a8" stroke-width="0.5" rx="0.4" />
<rect x="143.60" y="243.50" width="5.40" height="8.20" fill="#FFFFFF" stroke="#333" stroke-width="0.65" rx="0.5" />
<line x1="145.50" y1="247.60" x2="147.90" y2="247.60" stroke="#222" stroke-width="0.5" />
<line x1="147.90" y1="246.10" x2="147.90" y2="249.10" stroke="#222" stroke-width="0.5" />
<rect x="155.00" y="258.40" width="8.00" height="12.80" fill="#f1f1f1" stroke="#a8a8a8" stroke-width="0.5" rx="0.4" />
<rect x="156.60" y="260.30" width="4.80" height="9.00" fill="#FFFFFF" stroke="#333" stroke-width="0.65" rx="0.5" />
<line x1="158.20" y1="264.80" x2="160.60" y2="264.80" stroke="#222" stroke-width="0.5" />
<line x1="160.60" y1="263.30" x2="160.60" y2="266.30" stroke="#222" stroke-width="0.5" />
<rect x="250.80" y="242.00" width="8.20" height="10.60" fill="#f1f1f1" stroke="#a8a8a8" stroke-width="0.5" rx="0.4" />
<rect x="252.40" y="243.90" width="5.00" height="6.80" fill="#FFFFFF" stroke="#333" stroke-width="0.65" rx="0.5" />
<line x1="254.10" y1="247.30" x2="256.50" y2="247.30" stroke="#222" stroke-width="0.5" />
<line x1="256.50" y1="245.80" x2="256.50" y2="248.80" stroke="#222" stroke-width="0.5" />
<rect x="67.40" y="328.00" width="8.20" height="13.60" fill="#f1f1f1" stroke="#a8a8a8" stroke-width="0.5" rx="0.4" />
<rect x="69.00" y="329.90" width="5.00" height="9.80" fill="#FFFFFF" stroke="#333" stroke-width="0.65" rx="0.5" />
<line x1="70.70" y1="334.80" x2="73.10" y2="334.80" stroke="#222" stroke-width="0.5" />
<line x1="73.10" y1="333.30" x2="73.10" y2="336.30" stroke="#222" stroke-width="0.5" />
<rect x="291.20" y="275.60" width="12.40" height="8.20" fill="#f1f1f1" stroke="#a8a8a8" stroke-width="0.5" rx="0.4" />
<rect x="293.10" y="277.20" width="8.60" height="5.00" fill="#FFFFFF" stroke="#333" stroke-width="0.65" rx="0.5" />
<line x1="297.40" y1="278.10" x2="297.40" y2="280.50" stroke="#222" stroke-width="0.5" />
<line x1="295.90" y1="278.10" x2="298.90" y2="278.10" stroke="#222" stroke-width="0.5" />
<rect x="215.20" y="376.40" width="6.80" height="7.00" fill="#cfcfcf" stroke="#999" stroke-width="0.4" />
<rect x="214.60" y="382.60" width="8.00" height="8.00" fill="#f1f1f1" stroke="#a8a8a8" stroke-width="0.5" rx="0.4" />
<rect x="216.20" y="384.50" width="4.80" height="4.20" fill="#FFFFFF" stroke="#333" stroke-width="0.65" rx="0.5" />
<line x1="217.80" y1="386.60" x2="220.20" y2="386.60" stroke="#222" stroke-width="0.5" />
<line x1="220.20" y1="385.10" x2="220.20" y2="388.10" stroke="#222" stroke-width="0.5" />
<rect x="214.20" y="357.00" width="8.60" height="8.80" fill="#e4e4e4" stroke="#1c1c1c" stroke-width="0.7" rx="0.5" />
<circle cx="216.5" cy="359.3" r="1.1" fill="#fff" stroke="#111" stroke-width="0.6"/>
<circle cx="220.5" cy="359.3" r="1.1" fill="#fff" stroke="#111" stroke-width="0.6"/>
<circle cx="216.5" cy="363.5" r="1.1" fill="#fff" stroke="#111" stroke-width="0.6"/>
<circle cx="220.5" cy="363.5" r="1.1" fill="#fff" stroke="#111" stroke-width="0.6"/>
</g>
<g id="labels" font-family="'Liberation Sans', Arial, sans-serif">
<text x="88.80" y="189.80" font-size="5" text-anchor="middle" fill="#27221f" stroke="#27221f" stroke-width="0.1" >Bedroom 4</text>
<text x="88.80" y="195.80" font-size="5" text-anchor="middle" fill="#27221f" stroke="#27221f" stroke-width="0.1" >2.6 x 2.9</text>
<text x="224.00" y="189.80" font-size="5" text-anchor="middle" fill="#27221f" stroke="#27221f" stroke-width="0.1" >Bedroom 3</text>
<text x="224.00" y="195.80" font-size="5" text-anchor="middle" fill="#27221f" stroke="#27221f" stroke-width="0.1" >2.6 x 2.9</text>
<text x="313.00" y="192.40" font-size="5" text-anchor="middle" fill="#27221f" stroke="#27221f" stroke-width="0.1" >Bedroom 2</text>
<text x="313.00" y="198.40" font-size="5" text-anchor="middle" fill="#27221f" stroke="#27221f" stroke-width="0.1" >2.0 x 2.9</text>
<text x="177.60" y="217.80" font-size="5" text-anchor="middle" fill="#27221f" stroke="#27221f" stroke-width="0.1" >Living/Dining 3</text>
<text x="177.60" y="223.80" font-size="5" text-anchor="middle" fill="#27221f" stroke="#27221f" stroke-width="0.1" >3.6 x 5.9</text>
<text x="102.00" y="242.80" font-size="5" text-anchor="middle" fill="#27221f" stroke="#27221f" stroke-width="0.1" >Living/Dining 4</text>
<text x="102.00" y="248.80" font-size="5" text-anchor="middle" fill="#27221f" stroke="#27221f" stroke-width="0.1" >4.7 x 3.4</text>
<text x="295.00" y="242.80" font-size="5" text-anchor="middle" fill="#27221f" stroke="#27221f" stroke-width="0.1" >Living/Dining 2</text>
<text x="295.00" y="248.80" font-size="5" text-anchor="middle" fill="#27221f" stroke="#27221f" stroke-width="0.1" >4.8 x 3.5</text>
<text x="94.40" y="312.80" font-size="5" text-anchor="middle" fill="#27221f" stroke="#27221f" stroke-width="0.1" >Living/Dining 5</text>
<text x="94.40" y="318.80" font-size="5" text-anchor="middle" fill="#27221f" stroke="#27221f" stroke-width="0.1" >3.4 x 5.4</text>
<text x="305.00" y="319.80" font-size="5" text-anchor="middle" fill="#27221f" stroke="#27221f" stroke-width="0.1" >Living/Dining 1</text>
<text x="305.00" y="325.80" font-size="5" text-anchor="middle" fill="#27221f" stroke="#27221f" stroke-width="0.1" >3.8 x 5.3</text>
<text x="189.50" y="341.70" font-size="5" text-anchor="middle" fill="#27221f" stroke="#27221f" stroke-width="0.1" >Common Area</text>
<text x="189.50" y="347.70" font-size="5" text-anchor="middle" fill="#27221f" stroke="#27221f" stroke-width="0.1" >3.1 x 6.5</text>
<text x="143.60" y="361.80" font-size="5" text-anchor="middle" fill="#27221f" stroke="#27221f" stroke-width="0.1" >Bedroom 5</text>
<text x="143.60" y="367.80" font-size="5" text-anchor="middle" fill="#27221f" stroke="#27221f" stroke-width="0.1" >2.6 x 2.9</text>
<text x="249.40" y="365.80" font-size="5" text-anchor="middle" fill="#27221f" stroke="#27221f" stroke-width="0.1" >Bedroom 1</text>
<text x="249.40" y="371.80" font-size="5" text-anchor="middle" fill="#27221f" stroke="#27221f" stroke-width="0.1" >2.0 x 2.8</text>
<text x="175.40" y="160.20" font-size="5" text-anchor="middle" fill="#27221f" stroke="#27221f" stroke-width="0.1" >Patio 3</text>
<text x="52.40" y="250.20" font-size="5" text-anchor="middle" fill="#27221f" stroke="#27221f" stroke-width="0.1" >Patio 4</text>
<text x="347.40" y="247.80" font-size="5" text-anchor="middle" fill="#27221f" stroke="#27221f" stroke-width="0.1" >Patio 2</text>
<text x="92.00" y="385.80" font-size="5" text-anchor="middle" fill="#27221f" stroke="#27221f" stroke-width="0.1" >Patio 5</text>
<text x="309.60" y="385.80" font-size="5" text-anchor="middle" fill="#27221f" stroke="#27221f" stroke-width="0.1" >Patio 1</text>
<text x="179.40" y="405.40" font-size="5" text-anchor="middle" fill="#27221f" stroke="#27221f" stroke-width="0.1" >Porch</text>
<text x="132.30" y="192.73" font-size="4.8" text-anchor="middle" fill="#27221f" stroke="#27221f" stroke-width="0.1" >Bath 4</text>
<text x="267.90" y="194.73" font-size="4.8" text-anchor="middle" fill="#27221f" stroke="#27221f" stroke-width="0.1" >Bath 2</text>
<text x="228.00" y="252.73" font-size="4.8" text-anchor="middle" fill="#27221f" stroke="#27221f" stroke-width="0.1" >Bath 3</text>
<text x="146.00" y="318.73" font-size="4.8" text-anchor="middle" fill="#27221f" stroke="#27221f" stroke-width="0.1" >Bath 5</text>
<text x="251.00" y="328.73" font-size="4.8" text-anchor="middle" fill="#27221f" stroke="#27221f" stroke-width="0.1" >Bath 1</text>
<text x="224.40" y="225.73" font-size="4.8" text-anchor="middle" fill="#27221f" stroke="#27221f" stroke-width="0.1" >ROBE</text>
<text x="146.40" y="337.13" font-size="4.8" text-anchor="middle" fill="#27221f" stroke="#27221f" stroke-width="0.1" >ROBE</text>
<text x="0" y="0" font-size="4.8" text-anchor="middle" fill="#27221f" stroke="#27221f" stroke-width="0.1" transform="translate(118.33 193.00) rotate(-90)">ROBE</text>
<text x="0" y="0" font-size="4.8" text-anchor="middle" fill="#27221f" stroke="#27221f" stroke-width="0.1" transform="translate(284.93 191.00) rotate(-90)">ROBE</text>
<text x="0" y="0" font-size="4.8" text-anchor="middle" fill="#27221f" stroke="#27221f" stroke-width="0.1" transform="translate(281.13 380.00) rotate(-90)">ROBE</text>
<text x="0" y="0" font-size="4.6" text-anchor="middle" fill="#27221f" stroke="#27221f" stroke-width="0.1" transform="translate(218.66 344.40) rotate(-90)">CUP'D</text>
<text x="217.00" y="305.90" font-size="3.9" text-anchor="middle" fill="#27221f" stroke="#27221f" stroke-width="0.1" >EURO</text>
<text x="217.00" y="310.70" font-size="3.9" text-anchor="middle" fill="#27221f" stroke="#27221f" stroke-width="0.1" >L'DRY</text>
<text x="0" y="0" font-size="5" text-anchor="middle" fill="#27221f" stroke="#27221f" stroke-width="0.1" transform="translate(139.20 240.40) rotate(-90)">Kitchenette 4</text>
<text x="0" y="0" font-size="5" text-anchor="middle" fill="#27221f" stroke="#27221f" stroke-width="0.1" transform="translate(169.40 257.00) rotate(-90)">Kitchenette 3</text>
<text x="0" y="0" font-size="5" text-anchor="middle" fill="#27221f" stroke="#27221f" stroke-width="0.1" transform="translate(264.80 240.00) rotate(-90)">Kitchenette 2</text>
<text x="0" y="0" font-size="5" text-anchor="middle" fill="#27221f" stroke="#27221f" stroke-width="0.1" transform="translate(81.80 343.60) rotate(-90)">Kitchenette 5</text>
<text x="307.00" y="289.80" font-size="5" text-anchor="middle" fill="#27221f" stroke="#27221f" stroke-width="0.1" >Kitchenette 1</text>
<text x="0" y="0" font-size="5" text-anchor="middle" fill="#27221f" stroke="#27221f" stroke-width="0.1" transform="translate(211.80 373.60) rotate(-90)">Kitchen</text>
<text x="136.50" y="260.76" font-size="4.9" text-anchor="middle" fill="#27221f" stroke="#27221f" stroke-width="0.1" >Entry</text>
<text x="208.50" y="256.76" font-size="4.9" text-anchor="middle" fill="#27221f" stroke="#27221f" stroke-width="0.1" >Entry</text>
<text x="264.50" y="260.76" font-size="4.9" text-anchor="middle" fill="#27221f" stroke="#27221f" stroke-width="0.1" >Entry</text>
<text x="107.00" y="284.76" font-size="4.9" text-anchor="middle" fill="#27221f" stroke="#27221f" stroke-width="0.1" >Entry</text>
<text x="285.00" y="290.76" font-size="4.9" text-anchor="middle" fill="#27221f" stroke="#27221f" stroke-width="0.1" >Entry</text>
<text x="176.70" y="371.76" font-size="4.9" text-anchor="middle" fill="#27221f" stroke="#27221f" stroke-width="0.1" >Entry</text>
<text x="161.50" y="173.29" font-size="4.7" text-anchor="middle" fill="#3a3028" >AC</text>
<text x="107.90" y="367.69" font-size="4.7" text-anchor="middle" fill="#3a3028" >AC</text>
<rect x="101.70" y="367.80" width="12.30" height="2.40" fill="none" stroke="#7a6a60" stroke-width="0.3" />
<text x="0" y="0" font-size="4.7" text-anchor="middle" fill="#3a3028" stroke="#3a3028" stroke-width="0" transform="translate(72.69 265.00) rotate(-90)">AC</text>
<text x="0" y="0" font-size="4.7" text-anchor="middle" fill="#3a3028" stroke="#3a3028" stroke-width="0" transform="translate(330.89 264.60) rotate(-90)">AC</text>
<text x="0" y="0" font-size="4.7" text-anchor="middle" fill="#3a3028" stroke="#3a3028" stroke-width="0" transform="translate(329.99 335.00) rotate(-90)">AC</text>
<rect x="330.50" y="328.20" width="3.90" height="14.00" fill="none" stroke="#7a6a60" stroke-width="0.3" />
<text x="120.80" y="283.99" font-size="3.3" text-anchor="middle" fill="#111" stroke="#111" stroke-width="0.1" font-weight="bold" >Unit 5</text>
<text x="143.60" y="268.79" font-size="3.3" text-anchor="middle" fill="#111" stroke="#111" stroke-width="0.1" font-weight="bold" >Unit 4</text>
<text x="210.80" y="268.79" font-size="3.3" text-anchor="middle" fill="#111" stroke="#111" stroke-width="0.1" font-weight="bold" >Unit 3</text>
<text x="257.30" y="268.79" font-size="3.3" text-anchor="middle" fill="#111" stroke="#111" stroke-width="0.1" font-weight="bold" >Unit 2</text>
<text x="275.20" y="283.99" font-size="3.3" text-anchor="middle" fill="#111" stroke="#111" stroke-width="0.1" font-weight="bold" >Unit 1</text>
</g>
<g id="siteplan" font-family="'Liberation Sans', Arial, sans-serif">
<path d="M362.1 169.3 H635.6 V264 H599.4 V363 A11 11 0 0 1 588.4 374 H397.6 A11 11 0 0 1 386.6 363 V264 H362.1 Z" fill="#B0D2BA"/>
<path d="M362.1 169.3 H635.6 V264 H599.4 V363 A11 11 0 0 1 588.4 374 H397.6 A11 11 0 0 1 386.6 363 V264 H362.1 Z" fill="url(#stipple)" stroke="#6f8c78" stroke-width="0.9"/>
<line x1="368.30" y1="180.50" x2="368.30" y2="255.00" stroke="#6f8c78" stroke-width="0.7" />
<line x1="368.30" y1="180.50" x2="459.00" y2="180.50" stroke="#6f8c78" stroke-width="0.7" />
<line x1="450.60" y1="169.30" x2="450.60" y2="180.50" stroke="#6f8c78" stroke-width="0.7" />
<line x1="515.60" y1="180.30" x2="591.40" y2="180.30" stroke="#6f8c78" stroke-width="0.7" />
<line x1="528.75" y1="169.30" x2="528.75" y2="180.50" stroke="#6f8c78" stroke-width="0.7" />
<line x1="591.40" y1="193.00" x2="626.00" y2="193.00" stroke="#6f8c78" stroke-width="0.7" />
<line x1="626.00" y1="193.00" x2="626.00" y2="264.00" stroke="#6f8c78" stroke-width="0.7" />
<line x1="393.60" y1="362.40" x2="469.00" y2="362.40" stroke="#6f8c78" stroke-width="0.7" />
<line x1="513.40" y1="362.40" x2="591.40" y2="362.40" stroke="#6f8c78" stroke-width="0.7" />
<line x1="386.00" y1="264.00" x2="393.60" y2="264.00" stroke="#6f8c78" stroke-width="0.7" />
<line x1="591.40" y1="264.00" x2="599.40" y2="264.00" stroke="#6f8c78" stroke-width="0.7" />
<rect x="393.60" y="180.40" width="197.80" height="166.60" fill="#FFFFFF" />
<rect x="378.60" y="222.60" width="15.00" height="36.80" fill="#FFFFFF" stroke="#747474" stroke-width="0.5" />
<rect x="591.40" y="222.00" width="15.60" height="37.40" fill="#FFFFFF" stroke="#747474" stroke-width="0.5" />
<rect x="459.60" y="170.00" width="28.90" height="10.40" fill="#FFFFFF" />
<rect x="469.00" y="347.00" width="20.60" height="27.00" fill="#FFFFFF" stroke="#747474" stroke-width="0.5" />
<rect x="489.60" y="347.00" width="23.80" height="27.00" fill="#fbfbfb" />
<rect x="489.60" y="347.00" width="23.80" height="27.00" fill="url(#gravel)" stroke="#747474" stroke-width="0.4" />
<path d="M393.6 347 V180.4 H591.4 V347 Z" fill="none" stroke="#747474" stroke-width="0.7"/>
<path d="M458.75 180.4 V259.4" fill="none" stroke="#747474" stroke-width="0.7"/>
<path d="M528.75 180.4 V259.4" fill="none" stroke="#747474" stroke-width="0.7"/>
<path d="M393.6 259.4 H591.4" fill="none" stroke="#747474" stroke-width="0.7"/>
<path d="M440 259.4 V275.4 H467.4 V347" fill="none" stroke="#747474" stroke-width="0.7"/>
<path d="M542 259.4 V277 H546.6 V325.4 H554.6 V347" fill="none" stroke="#747474" stroke-width="0.7"/>
<path d="M393.6 331 H432.6 V347" fill="none" stroke="#747474" stroke-width="0.7"/>
<path d="M554.6 331 H591.4" fill="none" stroke="#747474" stroke-width="0.7"/>
<rect x="488.50" y="170.00" width="27.10" height="8.80" fill="#FFFFFF" stroke="#8a8a8a" stroke-width="0.4" />
<line x1="488.50" y1="177.50" x2="515.60" y2="177.50" stroke="#000" stroke-width="0.6" />
<line x1="488.50" y1="175.50" x2="515.60" y2="175.50" stroke="#000" stroke-width="0.6" />
<line x1="488.50" y1="173.50" x2="515.60" y2="173.50" stroke="#000" stroke-width="0.6" />
<line x1="488.50" y1="171.50" x2="515.60" y2="171.50" stroke="#000" stroke-width="0.6" />
<rect x="365.60" y="255.00" width="22.80" height="9.00" fill="#FFFFFF" stroke="#8a8a8a" stroke-width="0.4" />
<line x1="365.60" y1="262.50" x2="388.40" y2="262.50" stroke="#000" stroke-width="0.6" />
<line x1="365.60" y1="260.50" x2="388.40" y2="260.50" stroke="#000" stroke-width="0.6" />
<line x1="365.60" y1="258.50" x2="388.40" y2="258.50" stroke="#000" stroke-width="0.6" />
<line x1="365.60" y1="256.50" x2="388.40" y2="256.50" stroke="#000" stroke-width="0.6" />
<rect x="601.60" y="254.60" width="22.80" height="9.00" fill="#FFFFFF" stroke="#8a8a8a" stroke-width="0.4" />
<line x1="601.60" y1="262.50" x2="624.40" y2="262.50" stroke="#000" stroke-width="0.6" />
<line x1="601.60" y1="260.50" x2="624.40" y2="260.50" stroke="#000" stroke-width="0.6" />
<line x1="601.60" y1="258.50" x2="624.40" y2="258.50" stroke="#000" stroke-width="0.6" />
<line x1="601.60" y1="256.50" x2="624.40" y2="256.50" stroke="#000" stroke-width="0.6" />
<rect x="394.00" y="351.40" width="27.60" height="11.00" fill="#FFFFFF" stroke="#8a8a8a" stroke-width="0.4" />
<line x1="394.00" y1="361.50" x2="421.60" y2="361.50" stroke="#000" stroke-width="0.6" />
<line x1="394.00" y1="359.50" x2="421.60" y2="359.50" stroke="#000" stroke-width="0.6" />
<line x1="394.00" y1="357.50" x2="421.60" y2="357.50" stroke="#000" stroke-width="0.6" />
<line x1="394.00" y1="355.50" x2="421.60" y2="355.50" stroke="#000" stroke-width="0.6" />
<line x1="394.00" y1="353.50" x2="421.60" y2="353.50" stroke="#000" stroke-width="0.6" />
<rect x="563.60" y="351.40" width="27.80" height="11.00" fill="#FFFFFF" stroke="#8a8a8a" stroke-width="0.4" />
<line x1="563.60" y1="361.50" x2="591.40" y2="361.50" stroke="#000" stroke-width="0.6" />
<line x1="563.60" y1="359.50" x2="591.40" y2="359.50" stroke="#000" stroke-width="0.6" />
<line x1="563.60" y1="357.50" x2="591.40" y2="357.50" stroke="#000" stroke-width="0.6" />
<line x1="563.60" y1="355.50" x2="591.40" y2="355.50" stroke="#000" stroke-width="0.6" />
<line x1="563.60" y1="353.50" x2="591.40" y2="353.50" stroke="#000" stroke-width="0.6" />
<circle cx="365.00" cy="176.20" r="2" fill="#2f7a4d"/>
<circle cx="377.80" cy="175.20" r="2" fill="#2f7a4d"/>
<circle cx="389.00" cy="175.20" r="2" fill="#2f7a4d"/>
<circle cx="400.20" cy="175.20" r="2" fill="#2f7a4d"/>
<circle cx="411.40" cy="175.20" r="2" fill="#2f7a4d"/>
<circle cx="422.60" cy="175.20" r="2" fill="#2f7a4d"/>
<circle cx="433.80" cy="175.20" r="2" fill="#2f7a4d"/>
<circle cx="445.00" cy="175.20" r="2" fill="#2f7a4d"/>
<circle cx="365.00" cy="193.00" r="2" fill="#2f7a4d"/>
<circle cx="365.00" cy="207.40" r="2" fill="#2f7a4d"/>
<circle cx="365.00" cy="221.60" r="2" fill="#2f7a4d"/>
<circle cx="365.00" cy="236.00" r="2" fill="#2f7a4d"/>
<circle cx="365.00" cy="250.60" r="2" fill="#2f7a4d"/>
<circle cx="531.40" cy="175.20" r="2" fill="#2f7a4d"/>
<circle cx="541.93" cy="175.20" r="2" fill="#2f7a4d"/>
<circle cx="552.46" cy="175.20" r="2" fill="#2f7a4d"/>
<circle cx="562.99" cy="175.20" r="2" fill="#2f7a4d"/>
<circle cx="573.52" cy="175.20" r="2" fill="#2f7a4d"/>
<circle cx="584.05" cy="175.20" r="2" fill="#2f7a4d"/>
<circle cx="594.58" cy="175.20" r="2" fill="#2f7a4d"/>
<circle cx="606.60" cy="175.20" r="2" fill="#2f7a4d"/>
<circle cx="625.00" cy="175.20" r="2" fill="#2f7a4d"/>
<circle cx="600.00" cy="188.00" r="2" fill="#2f7a4d"/>
<circle cx="611.60" cy="188.00" r="2" fill="#2f7a4d"/>
<circle cx="630.40" cy="186.60" r="2" fill="#2f7a4d"/>
<circle cx="630.40" cy="198.60" r="2" fill="#2f7a4d"/>
<circle cx="630.40" cy="211.00" r="2" fill="#2f7a4d"/>
<circle cx="630.40" cy="223.40" r="2" fill="#2f7a4d"/>
<circle cx="630.40" cy="235.60" r="2" fill="#2f7a4d"/>
<circle cx="630.40" cy="247.60" r="2" fill="#2f7a4d"/>
<circle cx="630.40" cy="260.00" r="2" fill="#2f7a4d"/>
<circle cx="399.60" cy="369.00" r="2" fill="#2f7a4d"/>
<circle cx="412.40" cy="369.00" r="2" fill="#2f7a4d"/>
<circle cx="425.20" cy="369.00" r="2" fill="#2f7a4d"/>
<circle cx="438.00" cy="369.00" r="2" fill="#2f7a4d"/>
<circle cx="450.60" cy="369.00" r="2" fill="#2f7a4d"/>
<circle cx="463.40" cy="369.00" r="2" fill="#2f7a4d"/>
<circle cx="520.60" cy="369.00" r="2" fill="#2f7a4d"/>
<circle cx="533.40" cy="369.00" r="2" fill="#2f7a4d"/>
<circle cx="546.00" cy="369.00" r="2" fill="#2f7a4d"/>
<circle cx="558.80" cy="369.00" r="2" fill="#2f7a4d"/>
<circle cx="571.60" cy="369.00" r="2" fill="#2f7a4d"/>
<circle cx="584.40" cy="369.00" r="2" fill="#2f7a4d"/>
<circle cx="429.40" cy="351.80" r="2" fill="#2f7a4d"/>
<circle cx="454.00" cy="357.40" r="2" fill="#2f7a4d"/>
<circle cx="494.9" cy="351.7" r="3.6" fill="#566a87" stroke="#9db0c9" stroke-width="0.7"/>
<circle cx="506.1" cy="351.7" r="3.6" fill="#566a87" stroke="#9db0c9" stroke-width="0.7"/>
<rect x="473.90" y="172.50" width="4.60" height="4.60" fill="#111" />
<text x="476.20" y="175.60" font-size="2.2" text-anchor="middle" fill="#8a8a8a" >2</text>
<rect x="498.60" y="171.70" width="4.60" height="4.60" fill="#111" />
<text x="500.90" y="174.80" font-size="2.2" text-anchor="middle" fill="#8a8a8a" >3</text>
<rect x="383.70" y="239.10" width="4.60" height="4.60" fill="#111" />
<text x="386.00" y="242.20" font-size="2.2" text-anchor="middle" fill="#8a8a8a" >2</text>
<rect x="376.10" y="256.90" width="4.60" height="4.60" fill="#111" />
<text x="378.40" y="260.00" font-size="2.2" text-anchor="middle" fill="#8a8a8a" >3</text>
<rect x="597.30" y="237.30" width="4.60" height="4.60" fill="#111" />
<text x="599.60" y="240.40" font-size="2.2" text-anchor="middle" fill="#8a8a8a" >2</text>
<rect x="611.10" y="256.90" width="4.60" height="4.60" fill="#111" />
<text x="613.40" y="260.00" font-size="2.2" text-anchor="middle" fill="#8a8a8a" >3</text>
<rect x="410.90" y="336.90" width="4.60" height="4.60" fill="#111" />
<text x="413.20" y="340.00" font-size="2.2" text-anchor="middle" fill="#8a8a8a" >2</text>
<rect x="405.10" y="354.90" width="4.60" height="4.60" fill="#111" />
<text x="407.40" y="358.00" font-size="2.2" text-anchor="middle" fill="#8a8a8a" >3</text>
<rect x="571.10" y="336.90" width="4.60" height="4.60" fill="#111" />
<text x="573.40" y="340.00" font-size="2.2" text-anchor="middle" fill="#8a8a8a" >2</text>
<rect x="575.10" y="354.90" width="4.60" height="4.60" fill="#111" />
<text x="577.40" y="358.00" font-size="2.2" text-anchor="middle" fill="#8a8a8a" >3</text>
<rect x="478.70" y="358.30" width="4.60" height="4.60" fill="#111" />
<text x="481.00" y="361.40" font-size="2.2" text-anchor="middle" fill="#8a8a8a" >1</text>
<rect x="493.10" y="349.90" width="3.60" height="3.60" fill="#111" />
<text x="494.90" y="352.50" font-size="2.2" text-anchor="middle" fill="#8a8a8a" >4</text>
<rect x="504.30" y="349.90" width="3.60" height="3.60" fill="#111" />
<text x="506.10" y="352.50" font-size="2.2" text-anchor="middle" fill="#8a8a8a" >4</text>
<text x="429.30" y="222.40" font-size="13.2" text-anchor="middle" fill="#0a0a0a" font-weight="bold" stroke="#0a0a0a" stroke-width="0.25">UNIT 4</text>
<text x="495.00" y="222.40" font-size="13.2" text-anchor="middle" fill="#0a0a0a" font-weight="bold" stroke="#0a0a0a" stroke-width="0.25">UNIT 3</text>
<text x="559.30" y="222.40" font-size="13.2" text-anchor="middle" fill="#0a0a0a" font-weight="bold" stroke="#0a0a0a" stroke-width="0.25">UNIT 2</text>
<text x="429.30" y="300.20" font-size="13.2" text-anchor="middle" fill="#0a0a0a" font-weight="bold" stroke="#0a0a0a" stroke-width="0.25">UNIT 5</text>
<text x="569.70" y="298.20" font-size="13.2" text-anchor="middle" fill="#0a0a0a" font-weight="bold" stroke="#0a0a0a" stroke-width="0.25">UNIT 1</text>
</g>
<g id="page" font-family="'Liberation Sans', Arial, sans-serif">
<text x="33.00" y="45.20" font-size="17" text-anchor="start" fill="#0c0c0c" stroke="#0c0c0c" stroke-width="0.3">17 Melia Street, Acacia Ridge</text>
<line x1="32.00" y1="53.60" x2="257.40" y2="53.60" stroke="#959595" stroke-width="1.4" />
<g fill="#000"><rect x="32" y="60.4" width="1.8" height="14.4" rx="0.5"/><path d="M33.6 64 H36.3 Q37.5 64 37.9 65.1 L38.3 66 H51.3 Q52.8 66 52.8 67.5 V69.5 H33.6 Z"/><rect x="33.6" y="69.3" width="19.2" height="1.5" fill="#2e2e2e"/><rect x="33.6" y="70.6" width="19.2" height="1.3"/><rect x="51.2" y="69.4" width="1.6" height="5.4" rx="0.4"/></g>
<text x="58.60" y="72.00" font-size="10.4" text-anchor="start" fill="#111" stroke="#111" stroke-width="0.2" >5 Bed</text>
<g fill="#000"><rect x="102.2" y="65" width="18" height="1.7" rx="0.8"/><rect x="103.4" y="66.5" width="16" height="1.5" fill="#2e2e2e"/><path d="M103.4 67.8 H119.4 C119.4 71.4 116.6 73.8 113 73.8 H109.8 C106.2 73.8 103.4 71.4 103.4 67.8 Z"/><rect x="109.3" y="73.2" width="1.4" height="1.4" rx="0.4"/><rect x="113.7" y="73.2" width="1.4" height="1.4" rx="0.4"/><path d="M118.8 65.2 V60.3 A1.6 1.6 0 0 0 115.9 59.5" fill="none" stroke="#3a3a3a" stroke-width="1"/><ellipse cx="116" cy="60.3" rx="0.9" ry="0.7"/></g>
<text x="126.00" y="72.00" font-size="10.4" text-anchor="start" fill="#111" stroke="#111" stroke-width="0.2" >5 Bath</text>
<text x="767.60" y="123.60" font-size="14.1" text-anchor="end" fill="#0a0a0a" stroke="#0a0a0a" stroke-width="0.2" font-weight="bold" >LEGEND</text>
<text x="0" y="0" font-size="9.7" text-anchor="end" fill="#0c0c0c" stroke="#0c0c0c" stroke-width="0.2" transform="translate(767.6 139.00) scale(0.985 1)">1. Porch</text>
<text x="0" y="0" font-size="9.7" text-anchor="end" fill="#0c0c0c" stroke="#0c0c0c" stroke-width="0.2" transform="translate(767.6 153.55) scale(0.985 1)">2. Patio</text>
<text x="0" y="0" font-size="9.7" text-anchor="end" fill="#0c0c0c" stroke="#0c0c0c" stroke-width="0.2" transform="translate(767.6 168.10) scale(0.985 1)">3. Clothes Line</text>
<text x="0" y="0" font-size="9.7" text-anchor="end" fill="#0c0c0c" stroke="#0c0c0c" stroke-width="0.2" transform="translate(767.6 182.65) scale(0.985 1)">4. Hot Water Tank</text>
<text x="0" y="0" font-size="9.8" text-anchor="end" fill="#0c0c0c" stroke="#0c0c0c" stroke-width="0.2" xml:space="preserve" style="white-space:pre" transform="translate(767.6 282) scale(0.965 1)">Internal  : 177m<tspan font-size="5.6" dy="-3.8">2</tspan></text>
<text x="200.10" y="518.80" font-size="10.3" text-anchor="middle" fill="#111" stroke="#111" stroke-width="0.2" >FLOOR PLAN</text>
<text x="508.70" y="518.80" font-size="10.3" text-anchor="middle" fill="#111" stroke="#111" stroke-width="0.2" >SITE PLAN</text>
<text x="767.60" y="552.60" font-size="7" text-anchor="end" fill="#1c1c1c" stroke="#1c1c1c" stroke-width="0.08">All information contained herein is gathered by Little Hinges.</text>
<text x="767.60" y="561.20" font-size="7" text-anchor="end" fill="#1c1c1c" stroke="#1c1c1c" stroke-width="0.08">Whilst the scanning technology is highly reliable,</text>
<text x="767.60" y="569.80" font-size="7" text-anchor="end" fill="#1c1c1c" stroke="#1c1c1c" stroke-width="0.08">we cannot guarantee its accuracy and interested parties</text>
<text x="767.60" y="578.40" font-size="7" text-anchor="end" fill="#1c1c1c" stroke="#1c1c1c" stroke-width="0.08">should rely on their own enquiries.</text>
<rect x="34.40" y="522.40" width="49.60" height="52.20" fill="#FFFFFF" stroke="#b5b5b5" stroke-width="0.6" />
<text x="59.80" y="553.00" font-size="16.4" text-anchor="middle" fill="#0a0a0a" font-weight="bold" stroke="#0a0a0a" stroke-width="0.5">YSH</text>
<text x="59.20" y="559.50" font-size="3.6" text-anchor="middle" fill="#111" stroke="#111" stroke-width="0.1" font-weight="bold" letter-spacing="0.45">PROPERTY</text>
<rect x="652.40" y="357.60" width="115.60" height="134.00" fill="#0BB1A8" rx="7" />
<path d="M682.6 370.2 H711.4 V384.4 H690.8 L685.8 388.2 L686.6 384.4 H682.6 Z" fill="none" stroke="#b5eee9" stroke-width="0.7"/>
<text x="697.00" y="379.50" font-size="6.6" text-anchor="middle" fill="#fff" font-weight="bold" >Hinges</text>
<text x="702.80" y="374.30" font-size="1.9" text-anchor="middle" fill="#bfe9e5" stroke="#bfe9e5" stroke-width="0.1" letter-spacing="0.3">LITTLE</text>
<text x="713.40" y="376.60" font-size="8.2" text-anchor="start" fill="#fff" font-weight="bold" textLength="25" lengthAdjust="spacingAndGlyphs">virtual</text>
<text x="713.80" y="383.80" font-size="8.2" text-anchor="start" fill="#bfe9e5" stroke="#bfe9e5" stroke-width="0.12" textLength="19" lengthAdjust="spacingAndGlyphs">tours</text>
<rect x="685.40" y="398.20" width="50.20" height="50.20" fill="#FFFFFF" rx="3" />
<g id="qr" fill="#111">
<path d="M690.70 403.60h0.99v0.99h-0.99zM691.69 403.60h0.99v0.99h-0.99zM692.67 403.60h0.99v0.99h-0.99zM693.66 403.60h0.99v0.99h-0.99zM694.64 403.60h0.99v0.99h-0.99zM695.63 403.60h0.99v0.99h-0.99zM696.61 403.60h0.99v0.99h-0.99zM698.58 403.60h0.99v0.99h-0.99zM699.57 403.60h0.99v0.99h-0.99zM701.54 403.60h0.99v0.99h-0.99zM703.51 403.60h0.99v0.99h-0.99zM704.50 403.60h0.99v0.99h-0.99zM706.47 403.60h0.99v0.99h-0.99zM707.45 403.60h0.99v0.99h-0.99zM708.44 403.60h0.99v0.99h-0.99zM709.42 403.60h0.99v0.99h-0.99zM710.41 403.60h0.99v0.99h-0.99zM712.38 403.60h0.99v0.99h-0.99zM713.36 403.60h0.99v0.99h-0.99zM717.30 403.60h0.99v0.99h-0.99zM719.28 403.60h0.99v0.99h-0.99zM721.25 403.60h0.99v0.99h-0.99zM722.23 403.60h0.99v0.99h-0.99zM724.20 403.60h0.99v0.99h-0.99zM725.19 403.60h0.99v0.99h-0.99zM726.17 403.60h0.99v0.99h-0.99zM727.16 403.60h0.99v0.99h-0.99zM728.14 403.60h0.99v0.99h-0.99zM729.13 403.60h0.99v0.99h-0.99zM730.11 403.60h0.99v0.99h-0.99zM690.70 404.59h0.99v0.99h-0.99zM696.61 404.59h0.99v0.99h-0.99zM698.58 404.59h0.99v0.99h-0.99zM699.57 404.59h0.99v0.99h-0.99zM701.54 404.59h0.99v0.99h-0.99zM704.50 404.59h0.99v0.99h-0.99zM706.47 404.59h0.99v0.99h-0.99zM707.45 404.59h0.99v0.99h-0.99zM708.44 404.59h0.99v0.99h-0.99zM710.41 404.59h0.99v0.99h-0.99zM711.39 404.59h0.99v0.99h-0.99zM713.36 404.59h0.99v0.99h-0.99zM714.35 404.59h0.99v0.99h-0.99zM717.30 404.59h0.99v0.99h-0.99zM722.23 404.59h0.99v0.99h-0.99zM724.20 404.59h0.99v0.99h-0.99zM730.11 404.59h0.99v0.99h-0.99zM690.70 405.57h0.99v0.99h-0.99zM692.67 405.57h0.99v0.99h-0.99zM693.66 405.57h0.99v0.99h-0.99zM694.64 405.57h0.99v0.99h-0.99zM696.61 405.57h0.99v0.99h-0.99zM699.57 405.57h0.99v0.99h-0.99zM700.55 405.57h0.99v0.99h-0.99zM702.52 405.57h0.99v0.99h-0.99zM703.51 405.57h0.99v0.99h-0.99zM704.50 405.57h0.99v0.99h-0.99zM709.42 405.57h0.99v0.99h-0.99zM713.36 405.57h0.99v0.99h-0.99zM716.32 405.57h0.99v0.99h-0.99zM718.29 405.57h0.99v0.99h-0.99zM724.20 405.57h0.99v0.99h-0.99zM726.17 405.57h0.99v0.99h-0.99zM727.16 405.57h0.99v0.99h-0.99zM728.14 405.57h0.99v0.99h-0.99zM730.11 405.57h0.99v0.99h-0.99zM690.70 406.56h0.99v0.99h-0.99zM692.67 406.56h0.99v0.99h-0.99zM693.66 406.56h0.99v0.99h-0.99zM694.64 406.56h0.99v0.99h-0.99zM696.61 406.56h0.99v0.99h-0.99zM698.58 406.56h0.99v0.99h-0.99zM699.57 406.56h0.99v0.99h-0.99zM701.54 406.56h0.99v0.99h-0.99zM702.52 406.56h0.99v0.99h-0.99zM703.51 406.56h0.99v0.99h-0.99zM704.50 406.56h0.99v0.99h-0.99zM705.48 406.56h0.99v0.99h-0.99zM707.45 406.56h0.99v0.99h-0.99zM708.44 406.56h0.99v0.99h-0.99zM709.42 406.56h0.99v0.99h-0.99zM711.39 406.56h0.99v0.99h-0.99zM712.38 406.56h0.99v0.99h-0.99zM717.30 406.56h0.99v0.99h-0.99zM718.29 406.56h0.99v0.99h-0.99zM719.28 406.56h0.99v0.99h-0.99zM722.23 406.56h0.99v0.99h-0.99zM724.20 406.56h0.99v0.99h-0.99zM726.17 406.56h0.99v0.99h-0.99zM727.16 406.56h0.99v0.99h-0.99zM728.14 406.56h0.99v0.99h-0.99zM730.11 406.56h0.99v0.99h-0.99zM690.70 407.54h0.99v0.99h-0.99zM692.67 407.54h0.99v0.99h-0.99zM693.66 407.54h0.99v0.99h-0.99zM694.64 407.54h0.99v0.99h-0.99zM696.61 407.54h0.99v0.99h-0.99zM698.58 407.54h0.99v0.99h-0.99zM699.57 407.54h0.99v0.99h-0.99zM700.55 407.54h0.99v0.99h-0.99zM701.54 407.54h0.99v0.99h-0.99zM703.51 407.54h0.99v0.99h-0.99zM704.50 407.54h0.99v0.99h-0.99zM705.48 407.54h0.99v0.99h-0.99zM706.47 407.54h0.99v0.99h-0.99zM713.36 407.54h0.99v0.99h-0.99zM718.29 407.54h0.99v0.99h-0.99zM719.28 407.54h0.99v0.99h-0.99zM720.26 407.54h0.99v0.99h-0.99zM722.23 407.54h0.99v0.99h-0.99zM724.20 407.54h0.99v0.99h-0.99zM726.17 407.54h0.99v0.99h-0.99zM727.16 407.54h0.99v0.99h-0.99zM728.14 407.54h0.99v0.99h-0.99zM730.11 407.54h0.99v0.99h-0.99zM690.70 408.53h0.99v0.99h-0.99zM696.61 408.53h0.99v0.99h-0.99zM698.58 408.53h0.99v0.99h-0.99zM699.57 408.53h0.99v0.99h-0.99zM700.55 408.53h0.99v0.99h-0.99zM701.54 408.53h0.99v0.99h-0.99zM702.52 408.53h0.99v0.99h-0.99zM703.51 408.53h0.99v0.99h-0.99zM704.50 408.53h0.99v0.99h-0.99zM705.48 408.53h0.99v0.99h-0.99zM706.47 408.53h0.99v0.99h-0.99zM707.45 408.53h0.99v0.99h-0.99zM710.41 408.53h0.99v0.99h-0.99zM711.39 408.53h0.99v0.99h-0.99zM712.38 408.53h0.99v0.99h-0.99zM713.36 408.53h0.99v0.99h-0.99zM714.35 408.53h0.99v0.99h-0.99zM717.30 408.53h0.99v0.99h-0.99zM718.29 408.53h0.99v0.99h-0.99zM719.28 408.53h0.99v0.99h-0.99zM720.26 408.53h0.99v0.99h-0.99zM721.25 408.53h0.99v0.99h-0.99zM722.23 408.53h0.99v0.99h-0.99zM724.20 408.53h0.99v0.99h-0.99zM730.11 408.53h0.99v0.99h-0.99zM690.70 409.51h0.99v0.99h-0.99zM691.69 409.51h0.99v0.99h-0.99zM692.67 409.51h0.99v0.99h-0.99zM693.66 409.51h0.99v0.99h-0.99zM694.64 409.51h0.99v0.99h-0.99zM695.63 409.51h0.99v0.99h-0.99zM696.61 409.51h0.99v0.99h-0.99zM699.57 409.51h0.99v0.99h-0.99zM700.55 409.51h0.99v0.99h-0.99zM703.51 409.51h0.99v0.99h-0.99zM705.48 409.51h0.99v0.99h-0.99zM710.41 409.51h0.99v0.99h-0.99zM711.39 409.51h0.99v0.99h-0.99zM712.38 409.51h0.99v0.99h-0.99zM716.32 409.51h0.99v0.99h-0.99zM717.30 409.51h0.99v0.99h-0.99zM724.20 409.51h0.99v0.99h-0.99zM725.19 409.51h0.99v0.99h-0.99zM726.17 409.51h0.99v0.99h-0.99zM727.16 409.51h0.99v0.99h-0.99zM728.14 409.51h0.99v0.99h-0.99zM729.13 409.51h0.99v0.99h-0.99zM730.11 409.51h0.99v0.99h-0.99zM699.57 410.50h0.99v0.99h-0.99zM701.54 410.50h0.99v0.99h-0.99zM702.52 410.50h0.99v0.99h-0.99zM703.51 410.50h0.99v0.99h-0.99zM704.50 410.50h0.99v0.99h-0.99zM705.48 410.50h0.99v0.99h-0.99zM708.44 410.50h0.99v0.99h-0.99zM712.38 410.50h0.99v0.99h-0.99zM713.36 410.50h0.99v0.99h-0.99zM714.35 410.50h0.99v0.99h-0.99zM715.33 410.50h0.99v0.99h-0.99zM716.32 410.50h0.99v0.99h-0.99zM720.26 410.50h0.99v0.99h-0.99zM690.70 411.48h0.99v0.99h-0.99zM695.63 411.48h0.99v0.99h-0.99zM696.61 411.48h0.99v0.99h-0.99zM698.58 411.48h0.99v0.99h-0.99zM701.54 411.48h0.99v0.99h-0.99zM702.52 411.48h0.99v0.99h-0.99zM705.48 411.48h0.99v0.99h-0.99zM706.47 411.48h0.99v0.99h-0.99zM707.45 411.48h0.99v0.99h-0.99zM710.41 411.48h0.99v0.99h-0.99zM714.35 411.48h0.99v0.99h-0.99zM716.32 411.48h0.99v0.99h-0.99zM717.30 411.48h0.99v0.99h-0.99zM722.23 411.48h0.99v0.99h-0.99zM725.19 411.48h0.99v0.99h-0.99zM726.17 411.48h0.99v0.99h-0.99zM727.16 411.48h0.99v0.99h-0.99zM728.14 411.48h0.99v0.99h-0.99zM730.11 411.48h0.99v0.99h-0.99zM690.70 412.47h0.99v0.99h-0.99zM691.69 412.47h0.99v0.99h-0.99zM693.66 412.47h0.99v0.99h-0.99zM694.64 412.47h0.99v0.99h-0.99zM697.60 412.47h0.99v0.99h-0.99zM702.52 412.47h0.99v0.99h-0.99zM703.51 412.47h0.99v0.99h-0.99zM704.50 412.47h0.99v0.99h-0.99zM705.48 412.47h0.99v0.99h-0.99zM707.45 412.47h0.99v0.99h-0.99zM708.44 412.47h0.99v0.99h-0.99zM711.39 412.47h0.99v0.99h-0.99zM715.33 412.47h0.99v0.99h-0.99zM717.30 412.47h0.99v0.99h-0.99zM718.29 412.47h0.99v0.99h-0.99zM724.20 412.47h0.99v0.99h-0.99zM729.13 412.47h0.99v0.99h-0.99zM690.70 413.45h0.99v0.99h-0.99zM695.63 413.45h0.99v0.99h-0.99zM699.57 413.45h0.99v0.99h-0.99zM700.55 413.45h0.99v0.99h-0.99zM701.54 413.45h0.99v0.99h-0.99zM702.52 413.45h0.99v0.99h-0.99zM703.51 413.45h0.99v0.99h-0.99zM704.50 413.45h0.99v0.99h-0.99zM708.44 413.45h0.99v0.99h-0.99zM711.39 413.45h0.99v0.99h-0.99zM714.35 413.45h0.99v0.99h-0.99zM716.32 413.45h0.99v0.99h-0.99zM717.30 413.45h0.99v0.99h-0.99zM720.26 413.45h0.99v0.99h-0.99zM721.25 413.45h0.99v0.99h-0.99zM723.22 413.45h0.99v0.99h-0.99zM724.20 413.45h0.99v0.99h-0.99zM725.19 413.45h0.99v0.99h-0.99zM727.16 413.45h0.99v0.99h-0.99zM729.13 413.45h0.99v0.99h-0.99zM730.11 413.45h0.99v0.99h-0.99zM690.70 414.44h0.99v0.99h-0.99zM693.66 414.44h0.99v0.99h-0.99zM697.60 414.44h0.99v0.99h-0.99zM698.58 414.44h0.99v0.99h-0.99zM699.57 414.44h0.99v0.99h-0.99zM701.54 414.44h0.99v0.99h-0.99zM702.52 414.44h0.99v0.99h-0.99zM703.51 414.44h0.99v0.99h-0.99zM706.47 414.44h0.99v0.99h-0.99zM707.45 414.44h0.99v0.99h-0.99zM711.39 414.44h0.99v0.99h-0.99zM712.38 414.44h0.99v0.99h-0.99zM714.35 414.44h0.99v0.99h-0.99zM715.33 414.44h0.99v0.99h-0.99zM719.28 414.44h0.99v0.99h-0.99zM721.25 414.44h0.99v0.99h-0.99zM723.22 414.44h0.99v0.99h-0.99zM724.20 414.44h0.99v0.99h-0.99zM727.16 414.44h0.99v0.99h-0.99zM728.14 414.44h0.99v0.99h-0.99zM730.11 414.44h0.99v0.99h-0.99zM690.70 415.42h0.99v0.99h-0.99zM691.69 415.42h0.99v0.99h-0.99zM692.67 415.42h0.99v0.99h-0.99zM693.66 415.42h0.99v0.99h-0.99zM694.64 415.42h0.99v0.99h-0.99zM695.63 415.42h0.99v0.99h-0.99zM697.60 415.42h0.99v0.99h-0.99zM699.57 415.42h0.99v0.99h-0.99zM700.55 415.42h0.99v0.99h-0.99zM701.54 415.42h0.99v0.99h-0.99zM702.52 415.42h0.99v0.99h-0.99zM703.51 415.42h0.99v0.99h-0.99zM706.47 415.42h0.99v0.99h-0.99zM707.45 415.42h0.99v0.99h-0.99zM709.42 415.42h0.99v0.99h-0.99zM711.39 415.42h0.99v0.99h-0.99zM712.38 415.42h0.99v0.99h-0.99zM714.35 415.42h0.99v0.99h-0.99zM718.29 415.42h0.99v0.99h-0.99zM722.23 415.42h0.99v0.99h-0.99zM723.22 415.42h0.99v0.99h-0.99zM724.20 415.42h0.99v0.99h-0.99zM725.19 415.42h0.99v0.99h-0.99zM726.17 415.42h0.99v0.99h-0.99zM728.14 415.42h0.99v0.99h-0.99zM729.13 415.42h0.99v0.99h-0.99zM730.11 415.42h0.99v0.99h-0.99zM693.66 416.41h0.99v0.99h-0.99zM694.64 416.41h0.99v0.99h-0.99zM695.63 416.41h0.99v0.99h-0.99zM696.61 416.41h0.99v0.99h-0.99zM697.60 416.41h0.99v0.99h-0.99zM698.58 416.41h0.99v0.99h-0.99zM699.57 416.41h0.99v0.99h-0.99zM703.51 416.41h0.99v0.99h-0.99zM705.48 416.41h0.99v0.99h-0.99zM706.47 416.41h0.99v0.99h-0.99zM707.45 416.41h0.99v0.99h-0.99zM708.44 416.41h0.99v0.99h-0.99zM709.42 416.41h0.99v0.99h-0.99zM711.39 416.41h0.99v0.99h-0.99zM713.36 416.41h0.99v0.99h-0.99zM714.35 416.41h0.99v0.99h-0.99zM715.33 416.41h0.99v0.99h-0.99zM716.32 416.41h0.99v0.99h-0.99zM717.30 416.41h0.99v0.99h-0.99zM718.29 416.41h0.99v0.99h-0.99zM719.28 416.41h0.99v0.99h-0.99zM720.26 416.41h0.99v0.99h-0.99zM727.16 416.41h0.99v0.99h-0.99zM728.14 416.41h0.99v0.99h-0.99zM730.11 416.41h0.99v0.99h-0.99zM692.67 417.40h0.99v0.99h-0.99zM698.58 417.40h0.99v0.99h-0.99zM708.44 417.40h0.99v0.99h-0.99zM709.42 417.40h0.99v0.99h-0.99zM710.41 417.40h0.99v0.99h-0.99zM711.39 417.40h0.99v0.99h-0.99zM712.38 417.40h0.99v0.99h-0.99zM718.29 417.40h0.99v0.99h-0.99zM719.28 417.40h0.99v0.99h-0.99zM725.19 417.40h0.99v0.99h-0.99zM727.16 417.40h0.99v0.99h-0.99zM728.14 417.40h0.99v0.99h-0.99zM729.13 417.40h0.99v0.99h-0.99zM690.70 418.38h0.99v0.99h-0.99zM693.66 418.38h0.99v0.99h-0.99zM694.64 418.38h0.99v0.99h-0.99zM695.63 418.38h0.99v0.99h-0.99zM700.55 418.38h0.99v0.99h-0.99zM701.54 418.38h0.99v0.99h-0.99zM702.52 418.38h0.99v0.99h-0.99zM704.50 418.38h0.99v0.99h-0.99zM706.47 418.38h0.99v0.99h-0.99zM707.45 418.38h0.99v0.99h-0.99zM708.44 418.38h0.99v0.99h-0.99zM712.38 418.38h0.99v0.99h-0.99zM714.35 418.38h0.99v0.99h-0.99zM715.33 418.38h0.99v0.99h-0.99zM716.32 418.38h0.99v0.99h-0.99zM718.29 418.38h0.99v0.99h-0.99zM721.25 418.38h0.99v0.99h-0.99zM722.23 418.38h0.99v0.99h-0.99zM725.19 418.38h0.99v0.99h-0.99zM726.17 418.38h0.99v0.99h-0.99zM727.16 418.38h0.99v0.99h-0.99zM729.13 418.38h0.99v0.99h-0.99zM690.70 419.37h0.99v0.99h-0.99zM693.66 419.37h0.99v0.99h-0.99zM698.58 419.37h0.99v0.99h-0.99zM700.55 419.37h0.99v0.99h-0.99zM701.54 419.37h0.99v0.99h-0.99zM702.52 419.37h0.99v0.99h-0.99zM703.51 419.37h0.99v0.99h-0.99zM704.50 419.37h0.99v0.99h-0.99zM705.48 419.37h0.99v0.99h-0.99zM706.47 419.37h0.99v0.99h-0.99zM707.45 419.37h0.99v0.99h-0.99zM708.44 419.37h0.99v0.99h-0.99zM710.41 419.37h0.99v0.99h-0.99zM713.36 419.37h0.99v0.99h-0.99zM717.30 419.37h0.99v0.99h-0.99zM718.29 419.37h0.99v0.99h-0.99zM719.28 419.37h0.99v0.99h-0.99zM722.23 419.37h0.99v0.99h-0.99zM723.22 419.37h0.99v0.99h-0.99zM724.20 419.37h0.99v0.99h-0.99zM725.19 419.37h0.99v0.99h-0.99zM726.17 419.37h0.99v0.99h-0.99zM728.14 419.37h0.99v0.99h-0.99zM730.11 419.37h0.99v0.99h-0.99zM690.70 420.35h0.99v0.99h-0.99zM692.67 420.35h0.99v0.99h-0.99zM693.66 420.35h0.99v0.99h-0.99zM702.52 420.35h0.99v0.99h-0.99zM704.50 420.35h0.99v0.99h-0.99zM707.45 420.35h0.99v0.99h-0.99zM708.44 420.35h0.99v0.99h-0.99zM710.41 420.35h0.99v0.99h-0.99zM711.39 420.35h0.99v0.99h-0.99zM712.38 420.35h0.99v0.99h-0.99zM713.36 420.35h0.99v0.99h-0.99zM716.32 420.35h0.99v0.99h-0.99zM718.29 420.35h0.99v0.99h-0.99zM720.26 420.35h0.99v0.99h-0.99zM721.25 420.35h0.99v0.99h-0.99zM722.23 420.35h0.99v0.99h-0.99zM723.22 420.35h0.99v0.99h-0.99zM725.19 420.35h0.99v0.99h-0.99zM726.17 420.35h0.99v0.99h-0.99zM729.13 420.35h0.99v0.99h-0.99zM730.11 420.35h0.99v0.99h-0.99zM690.70 421.34h0.99v0.99h-0.99zM691.69 421.34h0.99v0.99h-0.99zM692.67 421.34h0.99v0.99h-0.99zM693.66 421.34h0.99v0.99h-0.99zM694.64 421.34h0.99v0.99h-0.99zM695.63 421.34h0.99v0.99h-0.99zM699.57 421.34h0.99v0.99h-0.99zM700.55 421.34h0.99v0.99h-0.99zM702.52 421.34h0.99v0.99h-0.99zM703.51 421.34h0.99v0.99h-0.99zM704.50 421.34h0.99v0.99h-0.99zM705.48 421.34h0.99v0.99h-0.99zM707.45 421.34h0.99v0.99h-0.99zM711.39 421.34h0.99v0.99h-0.99zM712.38 421.34h0.99v0.99h-0.99zM713.36 421.34h0.99v0.99h-0.99zM714.35 421.34h0.99v0.99h-0.99zM715.33 421.34h0.99v0.99h-0.99zM719.28 421.34h0.99v0.99h-0.99zM720.26 421.34h0.99v0.99h-0.99zM723.22 421.34h0.99v0.99h-0.99zM725.19 421.34h0.99v0.99h-0.99zM726.17 421.34h0.99v0.99h-0.99zM690.70 422.32h0.99v0.99h-0.99zM691.69 422.32h0.99v0.99h-0.99zM692.67 422.32h0.99v0.99h-0.99zM699.57 422.32h0.99v0.99h-0.99zM701.54 422.32h0.99v0.99h-0.99zM703.51 422.32h0.99v0.99h-0.99zM706.47 422.32h0.99v0.99h-0.99zM707.45 422.32h0.99v0.99h-0.99zM708.44 422.32h0.99v0.99h-0.99zM711.39 422.32h0.99v0.99h-0.99zM712.38 422.32h0.99v0.99h-0.99zM715.33 422.32h0.99v0.99h-0.99zM716.32 422.32h0.99v0.99h-0.99zM718.29 422.32h0.99v0.99h-0.99zM719.28 422.32h0.99v0.99h-0.99zM720.26 422.32h0.99v0.99h-0.99zM724.20 422.32h0.99v0.99h-0.99zM725.19 422.32h0.99v0.99h-0.99zM726.17 422.32h0.99v0.99h-0.99zM729.13 422.32h0.99v0.99h-0.99zM730.11 422.32h0.99v0.99h-0.99zM690.70 423.31h0.99v0.99h-0.99zM692.67 423.31h0.99v0.99h-0.99zM693.66 423.31h0.99v0.99h-0.99zM696.61 423.31h0.99v0.99h-0.99zM697.60 423.31h0.99v0.99h-0.99zM698.58 423.31h0.99v0.99h-0.99zM699.57 423.31h0.99v0.99h-0.99zM701.54 423.31h0.99v0.99h-0.99zM705.48 423.31h0.99v0.99h-0.99zM707.45 423.31h0.99v0.99h-0.99zM709.42 423.31h0.99v0.99h-0.99zM710.41 423.31h0.99v0.99h-0.99zM712.38 423.31h0.99v0.99h-0.99zM714.35 423.31h0.99v0.99h-0.99zM715.33 423.31h0.99v0.99h-0.99zM716.32 423.31h0.99v0.99h-0.99zM717.30 423.31h0.99v0.99h-0.99zM720.26 423.31h0.99v0.99h-0.99zM721.25 423.31h0.99v0.99h-0.99zM722.23 423.31h0.99v0.99h-0.99zM724.20 423.31h0.99v0.99h-0.99zM725.19 423.31h0.99v0.99h-0.99zM726.17 423.31h0.99v0.99h-0.99zM727.16 423.31h0.99v0.99h-0.99zM692.67 424.29h0.99v0.99h-0.99zM693.66 424.29h0.99v0.99h-0.99zM696.61 424.29h0.99v0.99h-0.99zM698.58 424.29h0.99v0.99h-0.99zM699.57 424.29h0.99v0.99h-0.99zM700.55 424.29h0.99v0.99h-0.99zM701.54 424.29h0.99v0.99h-0.99zM702.52 424.29h0.99v0.99h-0.99zM703.51 424.29h0.99v0.99h-0.99zM704.50 424.29h0.99v0.99h-0.99zM706.47 424.29h0.99v0.99h-0.99zM708.44 424.29h0.99v0.99h-0.99zM709.42 424.29h0.99v0.99h-0.99zM712.38 424.29h0.99v0.99h-0.99zM713.36 424.29h0.99v0.99h-0.99zM714.35 424.29h0.99v0.99h-0.99zM715.33 424.29h0.99v0.99h-0.99zM717.30 424.29h0.99v0.99h-0.99zM718.29 424.29h0.99v0.99h-0.99zM720.26 424.29h0.99v0.99h-0.99zM721.25 424.29h0.99v0.99h-0.99zM724.20 424.29h0.99v0.99h-0.99zM725.19 424.29h0.99v0.99h-0.99zM726.17 424.29h0.99v0.99h-0.99zM728.14 424.29h0.99v0.99h-0.99zM690.70 425.28h0.99v0.99h-0.99zM691.69 425.28h0.99v0.99h-0.99zM694.64 425.28h0.99v0.99h-0.99zM696.61 425.28h0.99v0.99h-0.99zM697.60 425.28h0.99v0.99h-0.99zM698.58 425.28h0.99v0.99h-0.99zM703.51 425.28h0.99v0.99h-0.99zM704.50 425.28h0.99v0.99h-0.99zM705.48 425.28h0.99v0.99h-0.99zM708.44 425.28h0.99v0.99h-0.99zM709.42 425.28h0.99v0.99h-0.99zM710.41 425.28h0.99v0.99h-0.99zM711.39 425.28h0.99v0.99h-0.99zM713.36 425.28h0.99v0.99h-0.99zM719.28 425.28h0.99v0.99h-0.99zM720.26 425.28h0.99v0.99h-0.99zM721.25 425.28h0.99v0.99h-0.99zM723.22 425.28h0.99v0.99h-0.99zM724.20 425.28h0.99v0.99h-0.99zM726.17 425.28h0.99v0.99h-0.99zM727.16 425.28h0.99v0.99h-0.99zM728.14 425.28h0.99v0.99h-0.99zM730.11 425.28h0.99v0.99h-0.99zM693.66 426.26h0.99v0.99h-0.99zM694.64 426.26h0.99v0.99h-0.99zM695.63 426.26h0.99v0.99h-0.99zM696.61 426.26h0.99v0.99h-0.99zM698.58 426.26h0.99v0.99h-0.99zM699.57 426.26h0.99v0.99h-0.99zM700.55 426.26h0.99v0.99h-0.99zM706.47 426.26h0.99v0.99h-0.99zM708.44 426.26h0.99v0.99h-0.99zM710.41 426.26h0.99v0.99h-0.99zM712.38 426.26h0.99v0.99h-0.99zM713.36 426.26h0.99v0.99h-0.99zM714.35 426.26h0.99v0.99h-0.99zM715.33 426.26h0.99v0.99h-0.99zM718.29 426.26h0.99v0.99h-0.99zM719.28 426.26h0.99v0.99h-0.99zM722.23 426.26h0.99v0.99h-0.99zM726.17 426.26h0.99v0.99h-0.99zM727.16 426.26h0.99v0.99h-0.99zM690.70 427.25h0.99v0.99h-0.99zM691.69 427.25h0.99v0.99h-0.99zM692.67 427.25h0.99v0.99h-0.99zM693.66 427.25h0.99v0.99h-0.99zM697.60 427.25h0.99v0.99h-0.99zM699.57 427.25h0.99v0.99h-0.99zM700.55 427.25h0.99v0.99h-0.99zM703.51 427.25h0.99v0.99h-0.99zM706.47 427.25h0.99v0.99h-0.99zM707.45 427.25h0.99v0.99h-0.99zM708.44 427.25h0.99v0.99h-0.99zM709.42 427.25h0.99v0.99h-0.99zM710.41 427.25h0.99v0.99h-0.99zM713.36 427.25h0.99v0.99h-0.99zM714.35 427.25h0.99v0.99h-0.99zM715.33 427.25h0.99v0.99h-0.99zM717.30 427.25h0.99v0.99h-0.99zM718.29 427.25h0.99v0.99h-0.99zM719.28 427.25h0.99v0.99h-0.99zM722.23 427.25h0.99v0.99h-0.99zM723.22 427.25h0.99v0.99h-0.99zM724.20 427.25h0.99v0.99h-0.99zM727.16 427.25h0.99v0.99h-0.99zM728.14 427.25h0.99v0.99h-0.99zM730.11 427.25h0.99v0.99h-0.99zM690.70 428.23h0.99v0.99h-0.99zM691.69 428.23h0.99v0.99h-0.99zM693.66 428.23h0.99v0.99h-0.99zM695.63 428.23h0.99v0.99h-0.99zM696.61 428.23h0.99v0.99h-0.99zM699.57 428.23h0.99v0.99h-0.99zM700.55 428.23h0.99v0.99h-0.99zM702.52 428.23h0.99v0.99h-0.99zM703.51 428.23h0.99v0.99h-0.99zM705.48 428.23h0.99v0.99h-0.99zM707.45 428.23h0.99v0.99h-0.99zM709.42 428.23h0.99v0.99h-0.99zM710.41 428.23h0.99v0.99h-0.99zM711.39 428.23h0.99v0.99h-0.99zM715.33 428.23h0.99v0.99h-0.99zM717.30 428.23h0.99v0.99h-0.99zM719.28 428.23h0.99v0.99h-0.99zM720.26 428.23h0.99v0.99h-0.99zM723.22 428.23h0.99v0.99h-0.99zM724.20 428.23h0.99v0.99h-0.99zM727.16 428.23h0.99v0.99h-0.99zM728.14 428.23h0.99v0.99h-0.99zM690.70 429.22h0.99v0.99h-0.99zM691.69 429.22h0.99v0.99h-0.99zM693.66 429.22h0.99v0.99h-0.99zM697.60 429.22h0.99v0.99h-0.99zM699.57 429.22h0.99v0.99h-0.99zM700.55 429.22h0.99v0.99h-0.99zM703.51 429.22h0.99v0.99h-0.99zM704.50 429.22h0.99v0.99h-0.99zM705.48 429.22h0.99v0.99h-0.99zM707.45 429.22h0.99v0.99h-0.99zM708.44 429.22h0.99v0.99h-0.99zM709.42 429.22h0.99v0.99h-0.99zM712.38 429.22h0.99v0.99h-0.99zM715.33 429.22h0.99v0.99h-0.99zM717.30 429.22h0.99v0.99h-0.99zM721.25 429.22h0.99v0.99h-0.99zM722.23 429.22h0.99v0.99h-0.99zM724.20 429.22h0.99v0.99h-0.99zM726.17 429.22h0.99v0.99h-0.99zM727.16 429.22h0.99v0.99h-0.99zM728.14 429.22h0.99v0.99h-0.99zM730.11 429.22h0.99v0.99h-0.99zM690.70 430.20h0.99v0.99h-0.99zM693.66 430.20h0.99v0.99h-0.99zM694.64 430.20h0.99v0.99h-0.99zM695.63 430.20h0.99v0.99h-0.99zM696.61 430.20h0.99v0.99h-0.99zM697.60 430.20h0.99v0.99h-0.99zM698.58 430.20h0.99v0.99h-0.99zM699.57 430.20h0.99v0.99h-0.99zM700.55 430.20h0.99v0.99h-0.99zM702.52 430.20h0.99v0.99h-0.99zM704.50 430.20h0.99v0.99h-0.99zM708.44 430.20h0.99v0.99h-0.99zM710.41 430.20h0.99v0.99h-0.99zM712.38 430.20h0.99v0.99h-0.99zM717.30 430.20h0.99v0.99h-0.99zM719.28 430.20h0.99v0.99h-0.99zM722.23 430.20h0.99v0.99h-0.99zM725.19 430.20h0.99v0.99h-0.99zM726.17 430.20h0.99v0.99h-0.99zM728.14 430.20h0.99v0.99h-0.99zM730.11 430.20h0.99v0.99h-0.99zM691.69 431.19h0.99v0.99h-0.99zM694.64 431.19h0.99v0.99h-0.99zM695.63 431.19h0.99v0.99h-0.99zM697.60 431.19h0.99v0.99h-0.99zM698.58 431.19h0.99v0.99h-0.99zM699.57 431.19h0.99v0.99h-0.99zM700.55 431.19h0.99v0.99h-0.99zM704.50 431.19h0.99v0.99h-0.99zM706.47 431.19h0.99v0.99h-0.99zM709.42 431.19h0.99v0.99h-0.99zM714.35 431.19h0.99v0.99h-0.99zM717.30 431.19h0.99v0.99h-0.99zM719.28 431.19h0.99v0.99h-0.99zM722.23 431.19h0.99v0.99h-0.99zM724.20 431.19h0.99v0.99h-0.99zM725.19 431.19h0.99v0.99h-0.99zM727.16 431.19h0.99v0.99h-0.99zM729.13 431.19h0.99v0.99h-0.99zM693.66 432.18h0.99v0.99h-0.99zM694.64 432.18h0.99v0.99h-0.99zM695.63 432.18h0.99v0.99h-0.99zM696.61 432.18h0.99v0.99h-0.99zM698.58 432.18h0.99v0.99h-0.99zM701.54 432.18h0.99v0.99h-0.99zM702.52 432.18h0.99v0.99h-0.99zM704.50 432.18h0.99v0.99h-0.99zM705.48 432.18h0.99v0.99h-0.99zM706.47 432.18h0.99v0.99h-0.99zM707.45 432.18h0.99v0.99h-0.99zM708.44 432.18h0.99v0.99h-0.99zM709.42 432.18h0.99v0.99h-0.99zM712.38 432.18h0.99v0.99h-0.99zM714.35 432.18h0.99v0.99h-0.99zM715.33 432.18h0.99v0.99h-0.99zM717.30 432.18h0.99v0.99h-0.99zM718.29 432.18h0.99v0.99h-0.99zM719.28 432.18h0.99v0.99h-0.99zM723.22 432.18h0.99v0.99h-0.99zM724.20 432.18h0.99v0.99h-0.99zM725.19 432.18h0.99v0.99h-0.99zM728.14 432.18h0.99v0.99h-0.99zM730.11 432.18h0.99v0.99h-0.99zM692.67 433.16h0.99v0.99h-0.99zM694.64 433.16h0.99v0.99h-0.99zM696.61 433.16h0.99v0.99h-0.99zM697.60 433.16h0.99v0.99h-0.99zM698.58 433.16h0.99v0.99h-0.99zM700.55 433.16h0.99v0.99h-0.99zM703.51 433.16h0.99v0.99h-0.99zM704.50 433.16h0.99v0.99h-0.99zM709.42 433.16h0.99v0.99h-0.99zM710.41 433.16h0.99v0.99h-0.99zM711.39 433.16h0.99v0.99h-0.99zM712.38 433.16h0.99v0.99h-0.99zM716.32 433.16h0.99v0.99h-0.99zM719.28 433.16h0.99v0.99h-0.99zM721.25 433.16h0.99v0.99h-0.99zM722.23 433.16h0.99v0.99h-0.99zM723.22 433.16h0.99v0.99h-0.99zM724.20 433.16h0.99v0.99h-0.99zM725.19 433.16h0.99v0.99h-0.99zM726.17 433.16h0.99v0.99h-0.99zM690.70 434.15h0.99v0.99h-0.99zM692.67 434.15h0.99v0.99h-0.99zM695.63 434.15h0.99v0.99h-0.99zM698.58 434.15h0.99v0.99h-0.99zM700.55 434.15h0.99v0.99h-0.99zM701.54 434.15h0.99v0.99h-0.99zM702.52 434.15h0.99v0.99h-0.99zM706.47 434.15h0.99v0.99h-0.99zM708.44 434.15h0.99v0.99h-0.99zM709.42 434.15h0.99v0.99h-0.99zM715.33 434.15h0.99v0.99h-0.99zM719.28 434.15h0.99v0.99h-0.99zM722.23 434.15h0.99v0.99h-0.99zM723.22 434.15h0.99v0.99h-0.99zM725.19 434.15h0.99v0.99h-0.99zM727.16 434.15h0.99v0.99h-0.99zM728.14 434.15h0.99v0.99h-0.99zM729.13 434.15h0.99v0.99h-0.99zM690.70 435.13h0.99v0.99h-0.99zM691.69 435.13h0.99v0.99h-0.99zM692.67 435.13h0.99v0.99h-0.99zM693.66 435.13h0.99v0.99h-0.99zM698.58 435.13h0.99v0.99h-0.99zM700.55 435.13h0.99v0.99h-0.99zM704.50 435.13h0.99v0.99h-0.99zM708.44 435.13h0.99v0.99h-0.99zM709.42 435.13h0.99v0.99h-0.99zM710.41 435.13h0.99v0.99h-0.99zM711.39 435.13h0.99v0.99h-0.99zM717.30 435.13h0.99v0.99h-0.99zM718.29 435.13h0.99v0.99h-0.99zM719.28 435.13h0.99v0.99h-0.99zM721.25 435.13h0.99v0.99h-0.99zM722.23 435.13h0.99v0.99h-0.99zM723.22 435.13h0.99v0.99h-0.99zM724.20 435.13h0.99v0.99h-0.99zM725.19 435.13h0.99v0.99h-0.99zM726.17 435.13h0.99v0.99h-0.99zM728.14 435.13h0.99v0.99h-0.99zM729.13 435.13h0.99v0.99h-0.99zM701.54 436.12h0.99v0.99h-0.99zM702.52 436.12h0.99v0.99h-0.99zM703.51 436.12h0.99v0.99h-0.99zM705.48 436.12h0.99v0.99h-0.99zM708.44 436.12h0.99v0.99h-0.99zM710.41 436.12h0.99v0.99h-0.99zM712.38 436.12h0.99v0.99h-0.99zM713.36 436.12h0.99v0.99h-0.99zM714.35 436.12h0.99v0.99h-0.99zM717.30 436.12h0.99v0.99h-0.99zM718.29 436.12h0.99v0.99h-0.99zM719.28 436.12h0.99v0.99h-0.99zM721.25 436.12h0.99v0.99h-0.99zM722.23 436.12h0.99v0.99h-0.99zM723.22 436.12h0.99v0.99h-0.99zM725.19 436.12h0.99v0.99h-0.99zM727.16 436.12h0.99v0.99h-0.99zM728.14 436.12h0.99v0.99h-0.99zM730.11 436.12h0.99v0.99h-0.99zM690.70 437.10h0.99v0.99h-0.99zM691.69 437.10h0.99v0.99h-0.99zM692.67 437.10h0.99v0.99h-0.99zM693.66 437.10h0.99v0.99h-0.99zM694.64 437.10h0.99v0.99h-0.99zM695.63 437.10h0.99v0.99h-0.99zM696.61 437.10h0.99v0.99h-0.99zM698.58 437.10h0.99v0.99h-0.99zM700.55 437.10h0.99v0.99h-0.99zM705.48 437.10h0.99v0.99h-0.99zM706.47 437.10h0.99v0.99h-0.99zM707.45 437.10h0.99v0.99h-0.99zM709.42 437.10h0.99v0.99h-0.99zM711.39 437.10h0.99v0.99h-0.99zM712.38 437.10h0.99v0.99h-0.99zM713.36 437.10h0.99v0.99h-0.99zM716.32 437.10h0.99v0.99h-0.99zM718.29 437.10h0.99v0.99h-0.99zM719.28 437.10h0.99v0.99h-0.99zM724.20 437.10h0.99v0.99h-0.99zM725.19 437.10h0.99v0.99h-0.99zM726.17 437.10h0.99v0.99h-0.99zM730.11 437.10h0.99v0.99h-0.99zM690.70 438.09h0.99v0.99h-0.99zM696.61 438.09h0.99v0.99h-0.99zM698.58 438.09h0.99v0.99h-0.99zM701.54 438.09h0.99v0.99h-0.99zM702.52 438.09h0.99v0.99h-0.99zM704.50 438.09h0.99v0.99h-0.99zM705.48 438.09h0.99v0.99h-0.99zM706.47 438.09h0.99v0.99h-0.99zM709.42 438.09h0.99v0.99h-0.99zM710.41 438.09h0.99v0.99h-0.99zM711.39 438.09h0.99v0.99h-0.99zM712.38 438.09h0.99v0.99h-0.99zM714.35 438.09h0.99v0.99h-0.99zM715.33 438.09h0.99v0.99h-0.99zM716.32 438.09h0.99v0.99h-0.99zM719.28 438.09h0.99v0.99h-0.99zM721.25 438.09h0.99v0.99h-0.99zM722.23 438.09h0.99v0.99h-0.99zM726.17 438.09h0.99v0.99h-0.99zM727.16 438.09h0.99v0.99h-0.99zM729.13 438.09h0.99v0.99h-0.99zM730.11 438.09h0.99v0.99h-0.99zM690.70 439.07h0.99v0.99h-0.99zM692.67 439.07h0.99v0.99h-0.99zM693.66 439.07h0.99v0.99h-0.99zM694.64 439.07h0.99v0.99h-0.99zM696.61 439.07h0.99v0.99h-0.99zM698.58 439.07h0.99v0.99h-0.99zM699.57 439.07h0.99v0.99h-0.99zM700.55 439.07h0.99v0.99h-0.99zM705.48 439.07h0.99v0.99h-0.99zM706.47 439.07h0.99v0.99h-0.99zM708.44 439.07h0.99v0.99h-0.99zM711.39 439.07h0.99v0.99h-0.99zM714.35 439.07h0.99v0.99h-0.99zM715.33 439.07h0.99v0.99h-0.99zM723.22 439.07h0.99v0.99h-0.99zM724.20 439.07h0.99v0.99h-0.99zM726.17 439.07h0.99v0.99h-0.99zM727.16 439.07h0.99v0.99h-0.99zM690.70 440.06h0.99v0.99h-0.99zM692.67 440.06h0.99v0.99h-0.99zM693.66 440.06h0.99v0.99h-0.99zM694.64 440.06h0.99v0.99h-0.99zM696.61 440.06h0.99v0.99h-0.99zM698.58 440.06h0.99v0.99h-0.99zM699.57 440.06h0.99v0.99h-0.99zM700.55 440.06h0.99v0.99h-0.99zM702.52 440.06h0.99v0.99h-0.99zM705.48 440.06h0.99v0.99h-0.99zM708.44 440.06h0.99v0.99h-0.99zM709.42 440.06h0.99v0.99h-0.99zM711.39 440.06h0.99v0.99h-0.99zM713.36 440.06h0.99v0.99h-0.99zM717.30 440.06h0.99v0.99h-0.99zM725.19 440.06h0.99v0.99h-0.99zM727.16 440.06h0.99v0.99h-0.99zM729.13 440.06h0.99v0.99h-0.99zM690.70 441.04h0.99v0.99h-0.99zM692.67 441.04h0.99v0.99h-0.99zM693.66 441.04h0.99v0.99h-0.99zM694.64 441.04h0.99v0.99h-0.99zM696.61 441.04h0.99v0.99h-0.99zM698.58 441.04h0.99v0.99h-0.99zM700.55 441.04h0.99v0.99h-0.99zM701.54 441.04h0.99v0.99h-0.99zM702.52 441.04h0.99v0.99h-0.99zM703.51 441.04h0.99v0.99h-0.99zM704.50 441.04h0.99v0.99h-0.99zM705.48 441.04h0.99v0.99h-0.99zM706.47 441.04h0.99v0.99h-0.99zM708.44 441.04h0.99v0.99h-0.99zM709.42 441.04h0.99v0.99h-0.99zM710.41 441.04h0.99v0.99h-0.99zM714.35 441.04h0.99v0.99h-0.99zM716.32 441.04h0.99v0.99h-0.99zM717.30 441.04h0.99v0.99h-0.99zM718.29 441.04h0.99v0.99h-0.99zM722.23 441.04h0.99v0.99h-0.99zM724.20 441.04h0.99v0.99h-0.99zM726.17 441.04h0.99v0.99h-0.99zM730.11 441.04h0.99v0.99h-0.99zM690.70 442.03h0.99v0.99h-0.99zM696.61 442.03h0.99v0.99h-0.99zM698.58 442.03h0.99v0.99h-0.99zM700.55 442.03h0.99v0.99h-0.99zM702.52 442.03h0.99v0.99h-0.99zM704.50 442.03h0.99v0.99h-0.99zM705.48 442.03h0.99v0.99h-0.99zM706.47 442.03h0.99v0.99h-0.99zM707.45 442.03h0.99v0.99h-0.99zM708.44 442.03h0.99v0.99h-0.99zM709.42 442.03h0.99v0.99h-0.99zM711.39 442.03h0.99v0.99h-0.99zM712.38 442.03h0.99v0.99h-0.99zM713.36 442.03h0.99v0.99h-0.99zM714.35 442.03h0.99v0.99h-0.99zM715.33 442.03h0.99v0.99h-0.99zM718.29 442.03h0.99v0.99h-0.99zM721.25 442.03h0.99v0.99h-0.99zM725.19 442.03h0.99v0.99h-0.99zM728.14 442.03h0.99v0.99h-0.99zM729.13 442.03h0.99v0.99h-0.99zM690.70 443.01h0.99v0.99h-0.99zM691.69 443.01h0.99v0.99h-0.99zM692.67 443.01h0.99v0.99h-0.99zM693.66 443.01h0.99v0.99h-0.99zM694.64 443.01h0.99v0.99h-0.99zM695.63 443.01h0.99v0.99h-0.99zM696.61 443.01h0.99v0.99h-0.99zM699.57 443.01h0.99v0.99h-0.99zM700.55 443.01h0.99v0.99h-0.99zM701.54 443.01h0.99v0.99h-0.99zM702.52 443.01h0.99v0.99h-0.99zM704.50 443.01h0.99v0.99h-0.99zM705.48 443.01h0.99v0.99h-0.99zM708.44 443.01h0.99v0.99h-0.99zM716.32 443.01h0.99v0.99h-0.99zM720.26 443.01h0.99v0.99h-0.99zM723.22 443.01h0.99v0.99h-0.99zM724.20 443.01h0.99v0.99h-0.99zM725.19 443.01h0.99v0.99h-0.99zM726.17 443.01h0.99v0.99h-0.99zM727.16 443.01h0.99v0.99h-0.99zM728.14 443.01h0.99v0.99h-0.99zM729.13 443.01h0.99v0.99h-0.99zM730.11 443.01h0.99v0.99h-0.99z"/>
</g>
<text x="710.20" y="463.00" font-size="7.5" text-anchor="middle" fill="#d9f5f2" stroke="#d9f5f2" stroke-width="0.25" textLength="85.6" lengthAdjust="spacingAndGlyphs">This property is ready for</text>
<text x="710.20" y="471.00" font-size="7.5" text-anchor="middle" fill="#d9f5f2" stroke="#d9f5f2" stroke-width="0.25" textLength="89.6" lengthAdjust="spacingAndGlyphs">you to virtually inspect now</text>
<text x="710.00" y="484.60" font-size="7.5" text-anchor="middle" fill="#b4e8e3" stroke="#b4e8e3" stroke-width="0.12" textLength="64" lengthAdjust="spacingAndGlyphs">littlehinges.com.au</text>
</g>
</g>
</svg>
</body>
</html>
